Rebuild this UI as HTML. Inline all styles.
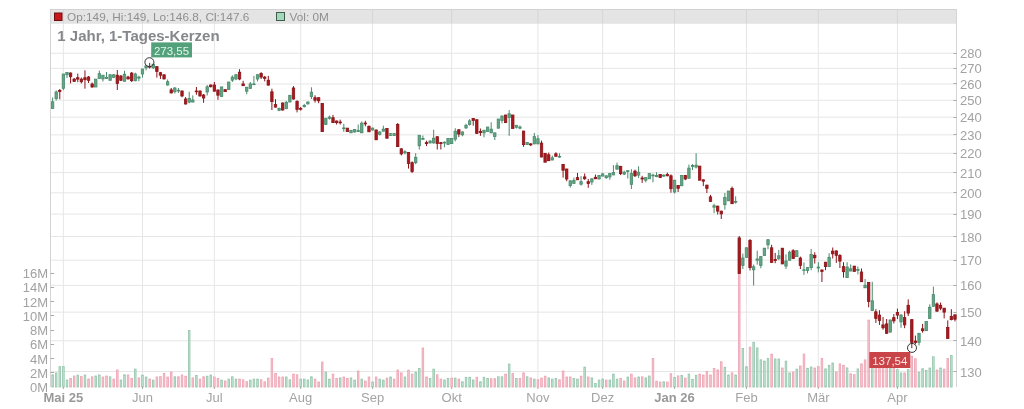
<!DOCTYPE html>
<html><head><meta charset="utf-8"><title>Chart</title>
<style>
html,body{margin:0;padding:0;background:#fff;width:1024px;height:409px;overflow:hidden}
text{font-family:"Liberation Sans",Arial,sans-serif}
.ax{font-size:13px;fill:#a2a2a2}
.m{font-size:13px;fill:#a4a4a4}
.mb{font-size:13px;fill:#999;font-weight:bold}
.hd{font-size:11.8px;fill:#8f8f8f}
.tt{font-size:15px;fill:#85878b;font-weight:bold}
.lb{font-size:11.5px}
</style></head><body>
<svg width="1024" height="409" viewBox="0 0 1024 409" style="display:block">
<rect x="0" y="0" width="1024" height="409" fill="#fff"/>
<rect x="50.5" y="9.5" width="906.0" height="14.3" fill="#e4e4e4"/>
<line x1="50.5" x2="956.5" y1="53.25" y2="53.25" stroke="#e6e6e6" stroke-width="1"/>
<line x1="50.5" x2="956.5" y1="68.34" y2="68.34" stroke="#e6e6e6" stroke-width="1"/>
<line x1="50.5" x2="956.5" y1="83.99" y2="83.99" stroke="#e6e6e6" stroke-width="1"/>
<line x1="50.5" x2="956.5" y1="100.26" y2="100.26" stroke="#e6e6e6" stroke-width="1"/>
<line x1="50.5" x2="956.5" y1="117.19" y2="117.19" stroke="#e6e6e6" stroke-width="1"/>
<line x1="50.5" x2="956.5" y1="134.85" y2="134.85" stroke="#e6e6e6" stroke-width="1"/>
<line x1="50.5" x2="956.5" y1="153.28" y2="153.28" stroke="#e6e6e6" stroke-width="1"/>
<line x1="50.5" x2="956.5" y1="172.58" y2="172.58" stroke="#e6e6e6" stroke-width="1"/>
<line x1="50.5" x2="956.5" y1="192.82" y2="192.82" stroke="#e6e6e6" stroke-width="1"/>
<line x1="50.5" x2="956.5" y1="214.10" y2="214.10" stroke="#e6e6e6" stroke-width="1"/>
<line x1="50.5" x2="956.5" y1="236.52" y2="236.52" stroke="#e6e6e6" stroke-width="1"/>
<line x1="50.5" x2="956.5" y1="260.23" y2="260.23" stroke="#e6e6e6" stroke-width="1"/>
<line x1="50.5" x2="956.5" y1="285.38" y2="285.38" stroke="#e6e6e6" stroke-width="1"/>
<line x1="50.5" x2="956.5" y1="312.15" y2="312.15" stroke="#e6e6e6" stroke-width="1"/>
<line x1="50.5" x2="956.5" y1="340.77" y2="340.77" stroke="#e6e6e6" stroke-width="1"/>
<line x1="50.5" x2="956.5" y1="371.51" y2="371.51" stroke="#e6e6e6" stroke-width="1"/>
<line x1="63.39" x2="63.39" y1="23.5" y2="387" stroke="#e6e6e6" stroke-width="1"/>
<line x1="63.39" x2="63.39" y1="9" y2="23.5" stroke="#d6d6d6" stroke-width="1"/>
<line x1="63.39" x2="63.39" y1="387" y2="389" stroke="#a8a8a8" stroke-width="1"/>
<line x1="142.47" x2="142.47" y1="23.5" y2="387" stroke="#e6e6e6" stroke-width="1"/>
<line x1="142.47" x2="142.47" y1="9" y2="23.5" stroke="#d6d6d6" stroke-width="1"/>
<line x1="142.47" x2="142.47" y1="387" y2="389" stroke="#a8a8a8" stroke-width="1"/>
<line x1="214.38" x2="214.38" y1="23.5" y2="387" stroke="#e6e6e6" stroke-width="1"/>
<line x1="214.38" x2="214.38" y1="9" y2="23.5" stroke="#d6d6d6" stroke-width="1"/>
<line x1="214.38" x2="214.38" y1="387" y2="389" stroke="#a8a8a8" stroke-width="1"/>
<line x1="300.66" x2="300.66" y1="23.5" y2="387" stroke="#e6e6e6" stroke-width="1"/>
<line x1="300.66" x2="300.66" y1="9" y2="23.5" stroke="#d6d6d6" stroke-width="1"/>
<line x1="300.66" x2="300.66" y1="387" y2="389" stroke="#a8a8a8" stroke-width="1"/>
<line x1="372.56" x2="372.56" y1="23.5" y2="387" stroke="#e6e6e6" stroke-width="1"/>
<line x1="372.56" x2="372.56" y1="9" y2="23.5" stroke="#d6d6d6" stroke-width="1"/>
<line x1="372.56" x2="372.56" y1="387" y2="389" stroke="#a8a8a8" stroke-width="1"/>
<line x1="451.65" x2="451.65" y1="23.5" y2="387" stroke="#e6e6e6" stroke-width="1"/>
<line x1="451.65" x2="451.65" y1="9" y2="23.5" stroke="#d6d6d6" stroke-width="1"/>
<line x1="451.65" x2="451.65" y1="387" y2="389" stroke="#a8a8a8" stroke-width="1"/>
<line x1="537.93" x2="537.93" y1="23.5" y2="387" stroke="#e6e6e6" stroke-width="1"/>
<line x1="537.93" x2="537.93" y1="9" y2="23.5" stroke="#d6d6d6" stroke-width="1"/>
<line x1="537.93" x2="537.93" y1="387" y2="389" stroke="#a8a8a8" stroke-width="1"/>
<line x1="602.64" x2="602.64" y1="23.5" y2="387" stroke="#e6e6e6" stroke-width="1"/>
<line x1="602.64" x2="602.64" y1="9" y2="23.5" stroke="#d6d6d6" stroke-width="1"/>
<line x1="602.64" x2="602.64" y1="387" y2="389" stroke="#a8a8a8" stroke-width="1"/>
<line x1="674.54" x2="674.54" y1="23.5" y2="387" stroke="#e6e6e6" stroke-width="1"/>
<line x1="674.54" x2="674.54" y1="9" y2="23.5" stroke="#d6d6d6" stroke-width="1"/>
<line x1="674.54" x2="674.54" y1="387" y2="389" stroke="#a8a8a8" stroke-width="1"/>
<line x1="746.44" x2="746.44" y1="23.5" y2="387" stroke="#e6e6e6" stroke-width="1"/>
<line x1="746.44" x2="746.44" y1="9" y2="23.5" stroke="#d6d6d6" stroke-width="1"/>
<line x1="746.44" x2="746.44" y1="387" y2="389" stroke="#a8a8a8" stroke-width="1"/>
<line x1="818.34" x2="818.34" y1="23.5" y2="387" stroke="#e6e6e6" stroke-width="1"/>
<line x1="818.34" x2="818.34" y1="9" y2="23.5" stroke="#d6d6d6" stroke-width="1"/>
<line x1="818.34" x2="818.34" y1="387" y2="389" stroke="#a8a8a8" stroke-width="1"/>
<line x1="897.43" x2="897.43" y1="23.5" y2="387" stroke="#e6e6e6" stroke-width="1"/>
<line x1="897.43" x2="897.43" y1="9" y2="23.5" stroke="#d6d6d6" stroke-width="1"/>
<line x1="897.43" x2="897.43" y1="387" y2="389" stroke="#a8a8a8" stroke-width="1"/>
<line x1="50.5" x2="50.5" y1="9" y2="387" stroke="#d4d4d4" stroke-width="1"/>
<line x1="956.5" x2="956.5" y1="9" y2="387" stroke="#d4d4d4" stroke-width="1"/>
<line x1="50.5" x2="956.5" y1="9.5" y2="9.5" stroke="#d2d2d2" stroke-width="1"/>
<line x1="953.5" x2="956.5" y1="53.5" y2="53.5" stroke="#a8a8a8" stroke-width="1"/>
<text x="960" y="58" class="ax">280</text>
<line x1="953.5" x2="956.5" y1="68.5" y2="68.5" stroke="#a8a8a8" stroke-width="1"/>
<text x="960" y="73" class="ax">270</text>
<line x1="953.5" x2="956.5" y1="83.5" y2="83.5" stroke="#a8a8a8" stroke-width="1"/>
<text x="960" y="89" class="ax">260</text>
<line x1="953.5" x2="956.5" y1="100.5" y2="100.5" stroke="#a8a8a8" stroke-width="1"/>
<text x="960" y="105" class="ax">250</text>
<line x1="953.5" x2="956.5" y1="117.5" y2="117.5" stroke="#a8a8a8" stroke-width="1"/>
<text x="960" y="122" class="ax">240</text>
<line x1="953.5" x2="956.5" y1="134.5" y2="134.5" stroke="#a8a8a8" stroke-width="1"/>
<text x="960" y="140" class="ax">230</text>
<line x1="953.5" x2="956.5" y1="153.5" y2="153.5" stroke="#a8a8a8" stroke-width="1"/>
<text x="960" y="158" class="ax">220</text>
<line x1="953.5" x2="956.5" y1="172.5" y2="172.5" stroke="#a8a8a8" stroke-width="1"/>
<text x="960" y="178" class="ax">210</text>
<line x1="953.5" x2="956.5" y1="192.5" y2="192.5" stroke="#a8a8a8" stroke-width="1"/>
<text x="960" y="198" class="ax">200</text>
<line x1="953.5" x2="956.5" y1="214.5" y2="214.5" stroke="#a8a8a8" stroke-width="1"/>
<text x="960" y="219" class="ax">190</text>
<line x1="953.5" x2="956.5" y1="236.5" y2="236.5" stroke="#a8a8a8" stroke-width="1"/>
<text x="960" y="242" class="ax">180</text>
<line x1="953.5" x2="956.5" y1="260.5" y2="260.5" stroke="#a8a8a8" stroke-width="1"/>
<text x="960" y="265" class="ax">170</text>
<line x1="953.5" x2="956.5" y1="285.5" y2="285.5" stroke="#a8a8a8" stroke-width="1"/>
<text x="960" y="290" class="ax">160</text>
<line x1="953.5" x2="956.5" y1="312.5" y2="312.5" stroke="#a8a8a8" stroke-width="1"/>
<text x="960" y="317" class="ax">150</text>
<line x1="953.5" x2="956.5" y1="340.5" y2="340.5" stroke="#a8a8a8" stroke-width="1"/>
<text x="960" y="346" class="ax">140</text>
<line x1="953.5" x2="956.5" y1="371.5" y2="371.5" stroke="#a8a8a8" stroke-width="1"/>
<text x="960" y="377" class="ax">130</text>
<text x="48" y="392.10" class="ax" text-anchor="end">0M</text>
<line x1="50.5" x2="54.0" y1="372.5" y2="372.5" stroke="#a8a8a8" stroke-width="1"/>
<text x="48" y="377.85" class="ax" text-anchor="end">2M</text>
<line x1="50.5" x2="54.0" y1="358.5" y2="358.5" stroke="#a8a8a8" stroke-width="1"/>
<text x="48" y="363.60" class="ax" text-anchor="end">4M</text>
<line x1="50.5" x2="54.0" y1="344.5" y2="344.5" stroke="#a8a8a8" stroke-width="1"/>
<text x="48" y="349.35" class="ax" text-anchor="end">6M</text>
<line x1="50.5" x2="54.0" y1="330.5" y2="330.5" stroke="#a8a8a8" stroke-width="1"/>
<text x="48" y="335.10" class="ax" text-anchor="end">8M</text>
<line x1="50.5" x2="54.0" y1="315.5" y2="315.5" stroke="#a8a8a8" stroke-width="1"/>
<text x="48" y="320.85" class="ax" text-anchor="end">10M</text>
<line x1="50.5" x2="54.0" y1="301.5" y2="301.5" stroke="#a8a8a8" stroke-width="1"/>
<text x="48" y="306.60" class="ax" text-anchor="end">12M</text>
<line x1="50.5" x2="54.0" y1="287.5" y2="287.5" stroke="#a8a8a8" stroke-width="1"/>
<text x="48" y="292.35" class="ax" text-anchor="end">14M</text>
<line x1="50.5" x2="54.0" y1="273.5" y2="273.5" stroke="#a8a8a8" stroke-width="1"/>
<text x="48" y="278.10" class="ax" text-anchor="end">16M</text>
<text x="63.39" y="402" class="mb" text-anchor="middle">Mai 25</text>
<text x="142.47" y="402" class="m" text-anchor="middle">Jun</text>
<text x="214.38" y="402" class="m" text-anchor="middle">Jul</text>
<text x="300.66" y="402" class="m" text-anchor="middle">Aug</text>
<text x="372.56" y="402" class="m" text-anchor="middle">Sep</text>
<text x="451.65" y="402" class="m" text-anchor="middle">Okt</text>
<text x="537.93" y="402" class="m" text-anchor="middle">Nov</text>
<text x="602.64" y="402" class="m" text-anchor="middle">Dez</text>
<text x="674.54" y="402" class="mb" text-anchor="middle">Jan 26</text>
<text x="746.44" y="402" class="m" text-anchor="middle">Feb</text>
<text x="818.34" y="402" class="m" text-anchor="middle">Mär</text>
<text x="897.43" y="402" class="m" text-anchor="middle">Apr</text>
<rect x="51.80" y="374.80" width="1.6" height="12.20" fill="#bfe3d1" stroke="#94c4ab" stroke-width="0.8"/>
<rect x="55.40" y="372.90" width="1.6" height="14.10" fill="#bfe3d1" stroke="#94c4ab" stroke-width="0.8"/>
<rect x="58.99" y="366.60" width="1.6" height="20.40" fill="#bfe3d1" stroke="#94c4ab" stroke-width="0.8"/>
<rect x="62.59" y="366.60" width="1.6" height="20.40" fill="#bfe3d1" stroke="#94c4ab" stroke-width="0.8"/>
<rect x="66.18" y="380.00" width="1.6" height="7.00" fill="#bfe3d1" stroke="#94c4ab" stroke-width="0.8"/>
<rect x="69.78" y="378.50" width="1.6" height="8.50" fill="#f7c5cf" stroke="#eda1b1" stroke-width="0.8"/>
<rect x="73.37" y="376.00" width="1.6" height="11.00" fill="#f7c5cf" stroke="#eda1b1" stroke-width="0.8"/>
<rect x="76.97" y="375.10" width="1.6" height="11.90" fill="#bfe3d1" stroke="#94c4ab" stroke-width="0.8"/>
<rect x="80.56" y="376.60" width="1.6" height="10.40" fill="#f7c5cf" stroke="#eda1b1" stroke-width="0.8"/>
<rect x="84.16" y="375.00" width="1.6" height="12.00" fill="#bfe3d1" stroke="#94c4ab" stroke-width="0.8"/>
<rect x="87.75" y="379.00" width="1.6" height="8.00" fill="#f7c5cf" stroke="#eda1b1" stroke-width="0.8"/>
<rect x="91.35" y="376.80" width="1.6" height="10.20" fill="#f7c5cf" stroke="#eda1b1" stroke-width="0.8"/>
<rect x="94.94" y="376.00" width="1.6" height="11.00" fill="#bfe3d1" stroke="#94c4ab" stroke-width="0.8"/>
<rect x="98.54" y="375.00" width="1.6" height="12.00" fill="#bfe3d1" stroke="#94c4ab" stroke-width="0.8"/>
<rect x="102.13" y="377.00" width="1.6" height="10.00" fill="#f7c5cf" stroke="#eda1b1" stroke-width="0.8"/>
<rect x="105.73" y="376.00" width="1.6" height="11.00" fill="#f7c5cf" stroke="#eda1b1" stroke-width="0.8"/>
<rect x="109.32" y="376.80" width="1.6" height="10.20" fill="#bfe3d1" stroke="#94c4ab" stroke-width="0.8"/>
<rect x="112.92" y="379.10" width="1.6" height="7.90" fill="#f7c5cf" stroke="#eda1b1" stroke-width="0.8"/>
<rect x="116.51" y="370.00" width="1.6" height="17.00" fill="#f7c5cf" stroke="#eda1b1" stroke-width="0.8"/>
<rect x="120.11" y="380.00" width="1.6" height="7.00" fill="#bfe3d1" stroke="#94c4ab" stroke-width="0.8"/>
<rect x="123.70" y="374.80" width="1.6" height="12.20" fill="#bfe3d1" stroke="#94c4ab" stroke-width="0.8"/>
<rect x="127.30" y="375.00" width="1.6" height="12.00" fill="#f7c5cf" stroke="#eda1b1" stroke-width="0.8"/>
<rect x="130.89" y="378.30" width="1.6" height="8.70" fill="#f7c5cf" stroke="#eda1b1" stroke-width="0.8"/>
<rect x="134.48" y="369.10" width="1.6" height="17.90" fill="#bfe3d1" stroke="#94c4ab" stroke-width="0.8"/>
<rect x="138.08" y="377.90" width="1.6" height="9.10" fill="#f7c5cf" stroke="#eda1b1" stroke-width="0.8"/>
<rect x="141.67" y="375.10" width="1.6" height="11.90" fill="#bfe3d1" stroke="#94c4ab" stroke-width="0.8"/>
<rect x="145.27" y="377.00" width="1.6" height="10.00" fill="#bfe3d1" stroke="#94c4ab" stroke-width="0.8"/>
<rect x="148.87" y="379.00" width="1.6" height="8.00" fill="#f7c5cf" stroke="#eda1b1" stroke-width="0.8"/>
<rect x="152.46" y="380.10" width="1.6" height="6.90" fill="#bfe3d1" stroke="#94c4ab" stroke-width="0.8"/>
<rect x="156.06" y="377.00" width="1.6" height="10.00" fill="#f7c5cf" stroke="#eda1b1" stroke-width="0.8"/>
<rect x="159.65" y="376.60" width="1.6" height="10.40" fill="#f7c5cf" stroke="#eda1b1" stroke-width="0.8"/>
<rect x="163.25" y="373.50" width="1.6" height="13.50" fill="#f7c5cf" stroke="#eda1b1" stroke-width="0.8"/>
<rect x="166.84" y="377.00" width="1.6" height="10.00" fill="#f7c5cf" stroke="#eda1b1" stroke-width="0.8"/>
<rect x="170.44" y="372.00" width="1.6" height="15.00" fill="#f7c5cf" stroke="#eda1b1" stroke-width="0.8"/>
<rect x="174.03" y="376.80" width="1.6" height="10.20" fill="#bfe3d1" stroke="#94c4ab" stroke-width="0.8"/>
<rect x="177.62" y="376.80" width="1.6" height="10.20" fill="#f7c5cf" stroke="#eda1b1" stroke-width="0.8"/>
<rect x="181.22" y="375.00" width="1.6" height="12.00" fill="#f7c5cf" stroke="#eda1b1" stroke-width="0.8"/>
<rect x="184.81" y="376.20" width="1.6" height="10.80" fill="#f7c5cf" stroke="#eda1b1" stroke-width="0.8"/>
<rect x="188.41" y="330.50" width="1.6" height="56.50" fill="#bfe3d1" stroke="#94c4ab" stroke-width="0.8"/>
<rect x="192.00" y="377.90" width="1.6" height="9.10" fill="#f7c5cf" stroke="#eda1b1" stroke-width="0.8"/>
<rect x="195.60" y="375.40" width="1.6" height="11.60" fill="#bfe3d1" stroke="#94c4ab" stroke-width="0.8"/>
<rect x="199.19" y="379.10" width="1.6" height="7.90" fill="#f7c5cf" stroke="#eda1b1" stroke-width="0.8"/>
<rect x="202.79" y="376.80" width="1.6" height="10.20" fill="#f7c5cf" stroke="#eda1b1" stroke-width="0.8"/>
<rect x="206.38" y="376.20" width="1.6" height="10.80" fill="#bfe3d1" stroke="#94c4ab" stroke-width="0.8"/>
<rect x="209.98" y="375.00" width="1.6" height="12.00" fill="#bfe3d1" stroke="#94c4ab" stroke-width="0.8"/>
<rect x="213.57" y="377.00" width="1.6" height="10.00" fill="#f7c5cf" stroke="#eda1b1" stroke-width="0.8"/>
<rect x="217.17" y="378.50" width="1.6" height="8.50" fill="#f7c5cf" stroke="#eda1b1" stroke-width="0.8"/>
<rect x="220.76" y="380.10" width="1.6" height="6.90" fill="#bfe3d1" stroke="#94c4ab" stroke-width="0.8"/>
<rect x="224.36" y="381.00" width="1.6" height="6.00" fill="#f7c5cf" stroke="#eda1b1" stroke-width="0.8"/>
<rect x="227.95" y="379.10" width="1.6" height="7.90" fill="#bfe3d1" stroke="#94c4ab" stroke-width="0.8"/>
<rect x="231.55" y="376.80" width="1.6" height="10.20" fill="#bfe3d1" stroke="#94c4ab" stroke-width="0.8"/>
<rect x="235.14" y="379.10" width="1.6" height="7.90" fill="#bfe3d1" stroke="#94c4ab" stroke-width="0.8"/>
<rect x="238.74" y="379.10" width="1.6" height="7.90" fill="#f7c5cf" stroke="#eda1b1" stroke-width="0.8"/>
<rect x="242.33" y="379.80" width="1.6" height="7.20" fill="#f7c5cf" stroke="#eda1b1" stroke-width="0.8"/>
<rect x="245.93" y="381.60" width="1.6" height="5.40" fill="#f7c5cf" stroke="#eda1b1" stroke-width="0.8"/>
<rect x="249.53" y="380.10" width="1.6" height="6.90" fill="#bfe3d1" stroke="#94c4ab" stroke-width="0.8"/>
<rect x="253.12" y="379.10" width="1.6" height="7.90" fill="#bfe3d1" stroke="#94c4ab" stroke-width="0.8"/>
<rect x="256.72" y="379.10" width="1.6" height="7.90" fill="#bfe3d1" stroke="#94c4ab" stroke-width="0.8"/>
<rect x="260.31" y="379.80" width="1.6" height="7.20" fill="#f7c5cf" stroke="#eda1b1" stroke-width="0.8"/>
<rect x="263.91" y="381.80" width="1.6" height="5.20" fill="#f7c5cf" stroke="#eda1b1" stroke-width="0.8"/>
<rect x="267.50" y="378.10" width="1.6" height="8.90" fill="#f7c5cf" stroke="#eda1b1" stroke-width="0.8"/>
<rect x="271.10" y="358.50" width="1.6" height="28.50" fill="#f7c5cf" stroke="#eda1b1" stroke-width="0.8"/>
<rect x="274.69" y="373.50" width="1.6" height="13.50" fill="#f7c5cf" stroke="#eda1b1" stroke-width="0.8"/>
<rect x="278.29" y="377.00" width="1.6" height="10.00" fill="#f7c5cf" stroke="#eda1b1" stroke-width="0.8"/>
<rect x="281.88" y="377.00" width="1.6" height="10.00" fill="#f7c5cf" stroke="#eda1b1" stroke-width="0.8"/>
<rect x="285.48" y="377.00" width="1.6" height="10.00" fill="#bfe3d1" stroke="#94c4ab" stroke-width="0.8"/>
<rect x="289.07" y="379.80" width="1.6" height="7.20" fill="#bfe3d1" stroke="#94c4ab" stroke-width="0.8"/>
<rect x="292.67" y="374.10" width="1.6" height="12.90" fill="#f7c5cf" stroke="#eda1b1" stroke-width="0.8"/>
<rect x="296.26" y="374.80" width="1.6" height="12.20" fill="#f7c5cf" stroke="#eda1b1" stroke-width="0.8"/>
<rect x="299.86" y="379.10" width="1.6" height="7.90" fill="#bfe3d1" stroke="#94c4ab" stroke-width="0.8"/>
<rect x="303.45" y="379.10" width="1.6" height="7.90" fill="#bfe3d1" stroke="#94c4ab" stroke-width="0.8"/>
<rect x="307.05" y="380.00" width="1.6" height="7.00" fill="#bfe3d1" stroke="#94c4ab" stroke-width="0.8"/>
<rect x="310.64" y="376.80" width="1.6" height="10.20" fill="#bfe3d1" stroke="#94c4ab" stroke-width="0.8"/>
<rect x="314.24" y="379.10" width="1.6" height="7.90" fill="#f7c5cf" stroke="#eda1b1" stroke-width="0.8"/>
<rect x="317.83" y="382.00" width="1.6" height="5.00" fill="#f7c5cf" stroke="#eda1b1" stroke-width="0.8"/>
<rect x="321.43" y="362.10" width="1.6" height="24.90" fill="#f7c5cf" stroke="#eda1b1" stroke-width="0.8"/>
<rect x="325.02" y="372.00" width="1.6" height="15.00" fill="#bfe3d1" stroke="#94c4ab" stroke-width="0.8"/>
<rect x="328.62" y="379.10" width="1.6" height="7.90" fill="#bfe3d1" stroke="#94c4ab" stroke-width="0.8"/>
<rect x="332.21" y="374.10" width="1.6" height="12.90" fill="#f7c5cf" stroke="#eda1b1" stroke-width="0.8"/>
<rect x="335.81" y="378.50" width="1.6" height="8.50" fill="#f7c5cf" stroke="#eda1b1" stroke-width="0.8"/>
<rect x="339.40" y="377.90" width="1.6" height="9.10" fill="#bfe3d1" stroke="#94c4ab" stroke-width="0.8"/>
<rect x="343.00" y="377.00" width="1.6" height="10.00" fill="#f7c5cf" stroke="#eda1b1" stroke-width="0.8"/>
<rect x="346.59" y="378.50" width="1.6" height="8.50" fill="#f7c5cf" stroke="#eda1b1" stroke-width="0.8"/>
<rect x="350.19" y="377.90" width="1.6" height="9.10" fill="#bfe3d1" stroke="#94c4ab" stroke-width="0.8"/>
<rect x="353.78" y="380.10" width="1.6" height="6.90" fill="#bfe3d1" stroke="#94c4ab" stroke-width="0.8"/>
<rect x="357.38" y="371.00" width="1.6" height="16.00" fill="#f7c5cf" stroke="#eda1b1" stroke-width="0.8"/>
<rect x="360.97" y="379.10" width="1.6" height="7.90" fill="#bfe3d1" stroke="#94c4ab" stroke-width="0.8"/>
<rect x="364.57" y="381.00" width="1.6" height="6.00" fill="#f7c5cf" stroke="#eda1b1" stroke-width="0.8"/>
<rect x="368.16" y="377.00" width="1.6" height="10.00" fill="#f7c5cf" stroke="#eda1b1" stroke-width="0.8"/>
<rect x="371.76" y="382.00" width="1.6" height="5.00" fill="#bfe3d1" stroke="#94c4ab" stroke-width="0.8"/>
<rect x="375.35" y="377.00" width="1.6" height="10.00" fill="#f7c5cf" stroke="#eda1b1" stroke-width="0.8"/>
<rect x="378.95" y="379.10" width="1.6" height="7.90" fill="#bfe3d1" stroke="#94c4ab" stroke-width="0.8"/>
<rect x="382.54" y="380.10" width="1.6" height="6.90" fill="#bfe3d1" stroke="#94c4ab" stroke-width="0.8"/>
<rect x="386.14" y="378.10" width="1.6" height="8.90" fill="#f7c5cf" stroke="#eda1b1" stroke-width="0.8"/>
<rect x="389.73" y="377.00" width="1.6" height="10.00" fill="#bfe3d1" stroke="#94c4ab" stroke-width="0.8"/>
<rect x="393.33" y="379.10" width="1.6" height="7.90" fill="#f7c5cf" stroke="#eda1b1" stroke-width="0.8"/>
<rect x="396.92" y="370.00" width="1.6" height="17.00" fill="#f7c5cf" stroke="#eda1b1" stroke-width="0.8"/>
<rect x="400.52" y="372.90" width="1.6" height="14.10" fill="#f7c5cf" stroke="#eda1b1" stroke-width="0.8"/>
<rect x="404.11" y="377.00" width="1.6" height="10.00" fill="#bfe3d1" stroke="#94c4ab" stroke-width="0.8"/>
<rect x="407.71" y="370.10" width="1.6" height="16.90" fill="#f7c5cf" stroke="#eda1b1" stroke-width="0.8"/>
<rect x="411.30" y="374.10" width="1.6" height="12.90" fill="#f7c5cf" stroke="#eda1b1" stroke-width="0.8"/>
<rect x="414.90" y="372.00" width="1.6" height="15.00" fill="#bfe3d1" stroke="#94c4ab" stroke-width="0.8"/>
<rect x="418.49" y="368.50" width="1.6" height="18.50" fill="#bfe3d1" stroke="#94c4ab" stroke-width="0.8"/>
<rect x="422.09" y="348.00" width="1.6" height="39.00" fill="#f7c5cf" stroke="#eda1b1" stroke-width="0.8"/>
<rect x="425.68" y="377.00" width="1.6" height="10.00" fill="#f7c5cf" stroke="#eda1b1" stroke-width="0.8"/>
<rect x="429.28" y="378.50" width="1.6" height="8.50" fill="#bfe3d1" stroke="#94c4ab" stroke-width="0.8"/>
<rect x="432.87" y="369.10" width="1.6" height="17.90" fill="#bfe3d1" stroke="#94c4ab" stroke-width="0.8"/>
<rect x="436.47" y="374.80" width="1.6" height="12.20" fill="#f7c5cf" stroke="#eda1b1" stroke-width="0.8"/>
<rect x="440.06" y="379.10" width="1.6" height="7.90" fill="#f7c5cf" stroke="#eda1b1" stroke-width="0.8"/>
<rect x="443.66" y="380.00" width="1.6" height="7.00" fill="#bfe3d1" stroke="#94c4ab" stroke-width="0.8"/>
<rect x="447.25" y="378.50" width="1.6" height="8.50" fill="#bfe3d1" stroke="#94c4ab" stroke-width="0.8"/>
<rect x="450.85" y="378.10" width="1.6" height="8.90" fill="#f7c5cf" stroke="#eda1b1" stroke-width="0.8"/>
<rect x="454.44" y="378.10" width="1.6" height="8.90" fill="#bfe3d1" stroke="#94c4ab" stroke-width="0.8"/>
<rect x="458.04" y="379.10" width="1.6" height="7.90" fill="#f7c5cf" stroke="#eda1b1" stroke-width="0.8"/>
<rect x="461.63" y="381.80" width="1.6" height="5.20" fill="#bfe3d1" stroke="#94c4ab" stroke-width="0.8"/>
<rect x="465.23" y="377.30" width="1.6" height="9.70" fill="#bfe3d1" stroke="#94c4ab" stroke-width="0.8"/>
<rect x="468.82" y="377.30" width="1.6" height="9.70" fill="#bfe3d1" stroke="#94c4ab" stroke-width="0.8"/>
<rect x="472.42" y="380.00" width="1.6" height="7.00" fill="#bfe3d1" stroke="#94c4ab" stroke-width="0.8"/>
<rect x="476.01" y="377.30" width="1.6" height="9.70" fill="#f7c5cf" stroke="#eda1b1" stroke-width="0.8"/>
<rect x="479.61" y="381.80" width="1.6" height="5.20" fill="#bfe3d1" stroke="#94c4ab" stroke-width="0.8"/>
<rect x="483.20" y="377.30" width="1.6" height="9.70" fill="#bfe3d1" stroke="#94c4ab" stroke-width="0.8"/>
<rect x="486.80" y="378.50" width="1.6" height="8.50" fill="#bfe3d1" stroke="#94c4ab" stroke-width="0.8"/>
<rect x="490.39" y="378.70" width="1.6" height="8.30" fill="#f7c5cf" stroke="#eda1b1" stroke-width="0.8"/>
<rect x="493.99" y="378.70" width="1.6" height="8.30" fill="#f7c5cf" stroke="#eda1b1" stroke-width="0.8"/>
<rect x="497.58" y="376.80" width="1.6" height="10.20" fill="#bfe3d1" stroke="#94c4ab" stroke-width="0.8"/>
<rect x="501.18" y="376.80" width="1.6" height="10.20" fill="#bfe3d1" stroke="#94c4ab" stroke-width="0.8"/>
<rect x="504.77" y="374.10" width="1.6" height="12.90" fill="#f7c5cf" stroke="#eda1b1" stroke-width="0.8"/>
<rect x="508.37" y="364.10" width="1.6" height="22.90" fill="#bfe3d1" stroke="#94c4ab" stroke-width="0.8"/>
<rect x="511.96" y="373.50" width="1.6" height="13.50" fill="#f7c5cf" stroke="#eda1b1" stroke-width="0.8"/>
<rect x="515.56" y="378.50" width="1.6" height="8.50" fill="#bfe3d1" stroke="#94c4ab" stroke-width="0.8"/>
<rect x="519.15" y="378.50" width="1.6" height="8.50" fill="#f7c5cf" stroke="#eda1b1" stroke-width="0.8"/>
<rect x="522.75" y="372.90" width="1.6" height="14.10" fill="#f7c5cf" stroke="#eda1b1" stroke-width="0.8"/>
<rect x="526.34" y="376.80" width="1.6" height="10.20" fill="#bfe3d1" stroke="#94c4ab" stroke-width="0.8"/>
<rect x="529.94" y="377.90" width="1.6" height="9.10" fill="#f7c5cf" stroke="#eda1b1" stroke-width="0.8"/>
<rect x="533.53" y="379.10" width="1.6" height="7.90" fill="#bfe3d1" stroke="#94c4ab" stroke-width="0.8"/>
<rect x="537.13" y="379.80" width="1.6" height="7.20" fill="#f7c5cf" stroke="#eda1b1" stroke-width="0.8"/>
<rect x="540.72" y="378.10" width="1.6" height="8.90" fill="#f7c5cf" stroke="#eda1b1" stroke-width="0.8"/>
<rect x="544.32" y="376.20" width="1.6" height="10.80" fill="#f7c5cf" stroke="#eda1b1" stroke-width="0.8"/>
<rect x="547.91" y="377.90" width="1.6" height="9.10" fill="#bfe3d1" stroke="#94c4ab" stroke-width="0.8"/>
<rect x="551.51" y="379.10" width="1.6" height="7.90" fill="#bfe3d1" stroke="#94c4ab" stroke-width="0.8"/>
<rect x="555.10" y="378.50" width="1.6" height="8.50" fill="#bfe3d1" stroke="#94c4ab" stroke-width="0.8"/>
<rect x="558.70" y="379.80" width="1.6" height="7.20" fill="#f7c5cf" stroke="#eda1b1" stroke-width="0.8"/>
<rect x="562.29" y="371.00" width="1.6" height="16.00" fill="#f7c5cf" stroke="#eda1b1" stroke-width="0.8"/>
<rect x="565.89" y="377.00" width="1.6" height="10.00" fill="#f7c5cf" stroke="#eda1b1" stroke-width="0.8"/>
<rect x="569.48" y="377.00" width="1.6" height="10.00" fill="#f7c5cf" stroke="#eda1b1" stroke-width="0.8"/>
<rect x="573.08" y="378.50" width="1.6" height="8.50" fill="#bfe3d1" stroke="#94c4ab" stroke-width="0.8"/>
<rect x="576.67" y="379.10" width="1.6" height="7.90" fill="#bfe3d1" stroke="#94c4ab" stroke-width="0.8"/>
<rect x="580.27" y="376.20" width="1.6" height="10.80" fill="#f7c5cf" stroke="#eda1b1" stroke-width="0.8"/>
<rect x="583.86" y="367.10" width="1.6" height="19.90" fill="#bfe3d1" stroke="#94c4ab" stroke-width="0.8"/>
<rect x="587.46" y="377.00" width="1.6" height="10.00" fill="#f7c5cf" stroke="#eda1b1" stroke-width="0.8"/>
<rect x="591.05" y="377.90" width="1.6" height="9.10" fill="#bfe3d1" stroke="#94c4ab" stroke-width="0.8"/>
<rect x="594.65" y="383.40" width="1.6" height="3.60" fill="#bfe3d1" stroke="#94c4ab" stroke-width="0.8"/>
<rect x="598.24" y="380.10" width="1.6" height="6.90" fill="#bfe3d1" stroke="#94c4ab" stroke-width="0.8"/>
<rect x="601.84" y="379.10" width="1.6" height="7.90" fill="#bfe3d1" stroke="#94c4ab" stroke-width="0.8"/>
<rect x="605.43" y="380.10" width="1.6" height="6.90" fill="#f7c5cf" stroke="#eda1b1" stroke-width="0.8"/>
<rect x="609.03" y="380.00" width="1.6" height="7.00" fill="#bfe3d1" stroke="#94c4ab" stroke-width="0.8"/>
<rect x="612.62" y="374.10" width="1.6" height="12.90" fill="#bfe3d1" stroke="#94c4ab" stroke-width="0.8"/>
<rect x="616.22" y="379.10" width="1.6" height="7.90" fill="#bfe3d1" stroke="#94c4ab" stroke-width="0.8"/>
<rect x="619.81" y="378.30" width="1.6" height="8.70" fill="#f7c5cf" stroke="#eda1b1" stroke-width="0.8"/>
<rect x="623.41" y="381.00" width="1.6" height="6.00" fill="#f7c5cf" stroke="#eda1b1" stroke-width="0.8"/>
<rect x="627.00" y="377.00" width="1.6" height="10.00" fill="#bfe3d1" stroke="#94c4ab" stroke-width="0.8"/>
<rect x="630.60" y="374.10" width="1.6" height="12.90" fill="#f7c5cf" stroke="#eda1b1" stroke-width="0.8"/>
<rect x="634.19" y="377.90" width="1.6" height="9.10" fill="#f7c5cf" stroke="#eda1b1" stroke-width="0.8"/>
<rect x="637.79" y="377.00" width="1.6" height="10.00" fill="#bfe3d1" stroke="#94c4ab" stroke-width="0.8"/>
<rect x="641.38" y="376.80" width="1.6" height="10.20" fill="#f7c5cf" stroke="#eda1b1" stroke-width="0.8"/>
<rect x="644.98" y="377.90" width="1.6" height="9.10" fill="#bfe3d1" stroke="#94c4ab" stroke-width="0.8"/>
<rect x="648.57" y="376.00" width="1.6" height="11.00" fill="#bfe3d1" stroke="#94c4ab" stroke-width="0.8"/>
<rect x="652.17" y="358.50" width="1.6" height="28.50" fill="#f7c5cf" stroke="#eda1b1" stroke-width="0.8"/>
<rect x="655.76" y="381.20" width="1.6" height="5.80" fill="#f7c5cf" stroke="#eda1b1" stroke-width="0.8"/>
<rect x="659.36" y="382.00" width="1.6" height="5.00" fill="#f7c5cf" stroke="#eda1b1" stroke-width="0.8"/>
<rect x="662.95" y="381.80" width="1.6" height="5.20" fill="#bfe3d1" stroke="#94c4ab" stroke-width="0.8"/>
<rect x="666.55" y="382.00" width="1.6" height="5.00" fill="#f7c5cf" stroke="#eda1b1" stroke-width="0.8"/>
<rect x="670.14" y="373.70" width="1.6" height="13.30" fill="#f7c5cf" stroke="#eda1b1" stroke-width="0.8"/>
<rect x="673.74" y="377.40" width="1.6" height="9.60" fill="#bfe3d1" stroke="#94c4ab" stroke-width="0.8"/>
<rect x="677.33" y="375.90" width="1.6" height="11.10" fill="#f7c5cf" stroke="#eda1b1" stroke-width="0.8"/>
<rect x="680.93" y="375.30" width="1.6" height="11.70" fill="#bfe3d1" stroke="#94c4ab" stroke-width="0.8"/>
<rect x="684.52" y="378.10" width="1.6" height="8.90" fill="#f7c5cf" stroke="#eda1b1" stroke-width="0.8"/>
<rect x="688.12" y="374.10" width="1.6" height="12.90" fill="#bfe3d1" stroke="#94c4ab" stroke-width="0.8"/>
<rect x="691.71" y="379.30" width="1.6" height="7.70" fill="#bfe3d1" stroke="#94c4ab" stroke-width="0.8"/>
<rect x="695.31" y="375.30" width="1.6" height="11.70" fill="#bfe3d1" stroke="#94c4ab" stroke-width="0.8"/>
<rect x="698.90" y="374.10" width="1.6" height="12.90" fill="#f7c5cf" stroke="#eda1b1" stroke-width="0.8"/>
<rect x="702.50" y="375.00" width="1.6" height="12.00" fill="#f7c5cf" stroke="#eda1b1" stroke-width="0.8"/>
<rect x="706.09" y="371.40" width="1.6" height="15.60" fill="#f7c5cf" stroke="#eda1b1" stroke-width="0.8"/>
<rect x="709.69" y="375.00" width="1.6" height="12.00" fill="#f7c5cf" stroke="#eda1b1" stroke-width="0.8"/>
<rect x="713.28" y="368.50" width="1.6" height="18.50" fill="#f7c5cf" stroke="#eda1b1" stroke-width="0.8"/>
<rect x="716.88" y="369.90" width="1.6" height="17.10" fill="#f7c5cf" stroke="#eda1b1" stroke-width="0.8"/>
<rect x="720.47" y="361.80" width="1.6" height="25.20" fill="#f7c5cf" stroke="#eda1b1" stroke-width="0.8"/>
<rect x="724.07" y="367.30" width="1.6" height="19.70" fill="#bfe3d1" stroke="#94c4ab" stroke-width="0.8"/>
<rect x="727.66" y="375.00" width="1.6" height="12.00" fill="#bfe3d1" stroke="#94c4ab" stroke-width="0.8"/>
<rect x="731.26" y="372.90" width="1.6" height="14.10" fill="#f7c5cf" stroke="#eda1b1" stroke-width="0.8"/>
<rect x="734.85" y="375.00" width="1.6" height="12.00" fill="#bfe3d1" stroke="#94c4ab" stroke-width="0.8"/>
<rect x="738.45" y="273.00" width="1.6" height="114.00" fill="#f7c5cf" stroke="#eda1b1" stroke-width="0.8"/>
<rect x="742.04" y="348.50" width="1.6" height="38.50" fill="#bfe3d1" stroke="#94c4ab" stroke-width="0.8"/>
<rect x="745.64" y="366.70" width="1.6" height="20.30" fill="#bfe3d1" stroke="#94c4ab" stroke-width="0.8"/>
<rect x="749.23" y="347.10" width="1.6" height="39.90" fill="#f7c5cf" stroke="#eda1b1" stroke-width="0.8"/>
<rect x="752.83" y="342.30" width="1.6" height="44.70" fill="#bfe3d1" stroke="#94c4ab" stroke-width="0.8"/>
<rect x="756.42" y="347.90" width="1.6" height="39.10" fill="#bfe3d1" stroke="#94c4ab" stroke-width="0.8"/>
<rect x="760.02" y="359.80" width="1.6" height="27.20" fill="#bfe3d1" stroke="#94c4ab" stroke-width="0.8"/>
<rect x="763.61" y="361.10" width="1.6" height="25.90" fill="#bfe3d1" stroke="#94c4ab" stroke-width="0.8"/>
<rect x="767.21" y="358.50" width="1.6" height="28.50" fill="#bfe3d1" stroke="#94c4ab" stroke-width="0.8"/>
<rect x="770.80" y="354.10" width="1.6" height="32.90" fill="#f7c5cf" stroke="#eda1b1" stroke-width="0.8"/>
<rect x="774.40" y="359.00" width="1.6" height="28.00" fill="#bfe3d1" stroke="#94c4ab" stroke-width="0.8"/>
<rect x="777.99" y="359.00" width="1.6" height="28.00" fill="#bfe3d1" stroke="#94c4ab" stroke-width="0.8"/>
<rect x="781.59" y="368.00" width="1.6" height="19.00" fill="#f7c5cf" stroke="#eda1b1" stroke-width="0.8"/>
<rect x="785.18" y="361.10" width="1.6" height="25.90" fill="#bfe3d1" stroke="#94c4ab" stroke-width="0.8"/>
<rect x="788.78" y="373.00" width="1.6" height="14.00" fill="#bfe3d1" stroke="#94c4ab" stroke-width="0.8"/>
<rect x="792.37" y="372.00" width="1.6" height="15.00" fill="#f7c5cf" stroke="#eda1b1" stroke-width="0.8"/>
<rect x="795.97" y="369.10" width="1.6" height="17.90" fill="#bfe3d1" stroke="#94c4ab" stroke-width="0.8"/>
<rect x="799.56" y="366.00" width="1.6" height="21.00" fill="#f7c5cf" stroke="#eda1b1" stroke-width="0.8"/>
<rect x="803.16" y="354.10" width="1.6" height="32.90" fill="#f7c5cf" stroke="#eda1b1" stroke-width="0.8"/>
<rect x="806.75" y="368.30" width="1.6" height="18.70" fill="#bfe3d1" stroke="#94c4ab" stroke-width="0.8"/>
<rect x="810.35" y="367.00" width="1.6" height="20.00" fill="#bfe3d1" stroke="#94c4ab" stroke-width="0.8"/>
<rect x="813.94" y="368.00" width="1.6" height="19.00" fill="#f7c5cf" stroke="#eda1b1" stroke-width="0.8"/>
<rect x="817.54" y="366.70" width="1.6" height="20.30" fill="#f7c5cf" stroke="#eda1b1" stroke-width="0.8"/>
<rect x="821.13" y="358.40" width="1.6" height="28.60" fill="#f7c5cf" stroke="#eda1b1" stroke-width="0.8"/>
<rect x="824.73" y="368.90" width="1.6" height="18.10" fill="#bfe3d1" stroke="#94c4ab" stroke-width="0.8"/>
<rect x="828.32" y="365.30" width="1.6" height="21.70" fill="#bfe3d1" stroke="#94c4ab" stroke-width="0.8"/>
<rect x="831.92" y="363.00" width="1.6" height="24.00" fill="#bfe3d1" stroke="#94c4ab" stroke-width="0.8"/>
<rect x="835.51" y="372.00" width="1.6" height="15.00" fill="#f7c5cf" stroke="#eda1b1" stroke-width="0.8"/>
<rect x="839.11" y="363.90" width="1.6" height="23.10" fill="#f7c5cf" stroke="#eda1b1" stroke-width="0.8"/>
<rect x="842.70" y="365.30" width="1.6" height="21.70" fill="#f7c5cf" stroke="#eda1b1" stroke-width="0.8"/>
<rect x="846.30" y="367.90" width="1.6" height="19.10" fill="#bfe3d1" stroke="#94c4ab" stroke-width="0.8"/>
<rect x="849.89" y="373.80" width="1.6" height="13.20" fill="#f7c5cf" stroke="#eda1b1" stroke-width="0.8"/>
<rect x="853.49" y="374.70" width="1.6" height="12.30" fill="#f7c5cf" stroke="#eda1b1" stroke-width="0.8"/>
<rect x="857.08" y="368.90" width="1.6" height="18.10" fill="#bfe3d1" stroke="#94c4ab" stroke-width="0.8"/>
<rect x="860.68" y="363.90" width="1.6" height="23.10" fill="#f7c5cf" stroke="#eda1b1" stroke-width="0.8"/>
<rect x="864.27" y="359.90" width="1.6" height="27.10" fill="#f7c5cf" stroke="#eda1b1" stroke-width="0.8"/>
<rect x="867.87" y="320.10" width="1.6" height="66.90" fill="#f7c5cf" stroke="#eda1b1" stroke-width="0.8"/>
<rect x="871.46" y="360.00" width="1.6" height="27.00" fill="#bfe3d1" stroke="#94c4ab" stroke-width="0.8"/>
<rect x="875.06" y="360.00" width="1.6" height="27.00" fill="#f7c5cf" stroke="#eda1b1" stroke-width="0.8"/>
<rect x="878.65" y="360.00" width="1.6" height="27.00" fill="#f7c5cf" stroke="#eda1b1" stroke-width="0.8"/>
<rect x="882.25" y="360.00" width="1.6" height="27.00" fill="#f7c5cf" stroke="#eda1b1" stroke-width="0.8"/>
<rect x="885.84" y="360.00" width="1.6" height="27.00" fill="#f7c5cf" stroke="#eda1b1" stroke-width="0.8"/>
<rect x="889.44" y="360.00" width="1.6" height="27.00" fill="#bfe3d1" stroke="#94c4ab" stroke-width="0.8"/>
<rect x="893.03" y="360.00" width="1.6" height="27.00" fill="#f7c5cf" stroke="#eda1b1" stroke-width="0.8"/>
<rect x="896.63" y="369.60" width="1.6" height="17.40" fill="#bfe3d1" stroke="#94c4ab" stroke-width="0.8"/>
<rect x="900.22" y="373.00" width="1.6" height="14.00" fill="#bfe3d1" stroke="#94c4ab" stroke-width="0.8"/>
<rect x="903.82" y="373.00" width="1.6" height="14.00" fill="#f7c5cf" stroke="#eda1b1" stroke-width="0.8"/>
<rect x="907.41" y="369.60" width="1.6" height="17.40" fill="#bfe3d1" stroke="#94c4ab" stroke-width="0.8"/>
<rect x="911.01" y="356.10" width="1.6" height="30.90" fill="#f7c5cf" stroke="#eda1b1" stroke-width="0.8"/>
<rect x="914.60" y="358.80" width="1.6" height="28.20" fill="#f7c5cf" stroke="#eda1b1" stroke-width="0.8"/>
<rect x="918.20" y="372.20" width="1.6" height="14.80" fill="#bfe3d1" stroke="#94c4ab" stroke-width="0.8"/>
<rect x="921.79" y="368.70" width="1.6" height="18.30" fill="#bfe3d1" stroke="#94c4ab" stroke-width="0.8"/>
<rect x="925.39" y="370.40" width="1.6" height="16.60" fill="#bfe3d1" stroke="#94c4ab" stroke-width="0.8"/>
<rect x="928.98" y="368.00" width="1.6" height="19.00" fill="#bfe3d1" stroke="#94c4ab" stroke-width="0.8"/>
<rect x="932.58" y="356.80" width="1.6" height="30.20" fill="#bfe3d1" stroke="#94c4ab" stroke-width="0.8"/>
<rect x="936.17" y="370.00" width="1.6" height="17.00" fill="#f7c5cf" stroke="#eda1b1" stroke-width="0.8"/>
<rect x="939.77" y="368.00" width="1.6" height="19.00" fill="#bfe3d1" stroke="#94c4ab" stroke-width="0.8"/>
<rect x="943.36" y="369.10" width="1.6" height="17.90" fill="#f7c5cf" stroke="#eda1b1" stroke-width="0.8"/>
<rect x="946.96" y="358.50" width="1.6" height="28.50" fill="#f7c5cf" stroke="#eda1b1" stroke-width="0.8"/>
<rect x="950.55" y="355.50" width="1.6" height="31.50" fill="#bfe3d1" stroke="#94c4ab" stroke-width="0.8"/>
<line x1="52.60" x2="52.60" y1="97.50" y2="109.00" stroke="#4a8a6c" stroke-width="1"/>
<rect x="51.40" y="101.80" width="2.4" height="6.70" fill="#62a585" stroke="#4a8a6c" stroke-width="0.8"/>
<line x1="56.20" x2="56.20" y1="90.40" y2="100.50" stroke="#4a8a6c" stroke-width="1"/>
<rect x="54.99" y="92.00" width="2.4" height="6.70" fill="#62a585" stroke="#4a8a6c" stroke-width="0.8"/>
<line x1="59.79" x2="59.79" y1="89.00" y2="99.30" stroke="#8a1418" stroke-width="1"/>
<rect x="58.59" y="90.50" width="2.4" height="1.00" fill="#a8181e" stroke="#8a1418" stroke-width="0.8"/>
<line x1="63.39" x2="63.39" y1="74.00" y2="90.10" stroke="#4a8a6c" stroke-width="1"/>
<rect x="62.19" y="74.00" width="2.4" height="14.30" fill="#62a585" stroke="#4a8a6c" stroke-width="0.8"/>
<line x1="66.98" x2="66.98" y1="72.00" y2="78.00" stroke="#4a8a6c" stroke-width="1"/>
<rect x="65.78" y="72.40" width="2.4" height="2.40" fill="#62a585" stroke="#4a8a6c" stroke-width="0.8"/>
<line x1="70.58" x2="70.58" y1="72.50" y2="83.40" stroke="#8a1418" stroke-width="1"/>
<rect x="69.38" y="73.00" width="2.4" height="3.70" fill="#a8181e" stroke="#8a1418" stroke-width="0.8"/>
<line x1="74.17" x2="74.17" y1="78.00" y2="82.00" stroke="#8a1418" stroke-width="1"/>
<rect x="72.97" y="79.10" width="2.4" height="2.20" fill="#a8181e" stroke="#8a1418" stroke-width="0.8"/>
<line x1="77.77" x2="77.77" y1="73.60" y2="82.20" stroke="#8a1418" stroke-width="1"/>
<rect x="76.56" y="77.70" width="2.4" height="1.40" fill="#a8181e" stroke="#8a1418" stroke-width="0.8"/>
<line x1="81.36" x2="81.36" y1="77.60" y2="83.40" stroke="#8a1418" stroke-width="1"/>
<rect x="80.16" y="79.10" width="2.4" height="2.70" fill="#a8181e" stroke="#8a1418" stroke-width="0.8"/>
<line x1="84.96" x2="84.96" y1="70.30" y2="88.70" stroke="#8a1418" stroke-width="1"/>
<rect x="83.76" y="77.70" width="2.4" height="2.00" fill="#a8181e" stroke="#8a1418" stroke-width="0.8"/>
<line x1="88.55" x2="88.55" y1="76.00" y2="83.00" stroke="#8a1418" stroke-width="1"/>
<rect x="87.35" y="77.00" width="2.4" height="3.30" fill="#a8181e" stroke="#8a1418" stroke-width="0.8"/>
<line x1="92.15" x2="92.15" y1="82.50" y2="87.70" stroke="#8a1418" stroke-width="1"/>
<rect x="90.95" y="84.00" width="2.4" height="3.00" fill="#a8181e" stroke="#8a1418" stroke-width="0.8"/>
<line x1="95.74" x2="95.74" y1="79.10" y2="87.00" stroke="#4a8a6c" stroke-width="1"/>
<rect x="94.54" y="79.10" width="2.4" height="7.90" fill="#62a585" stroke="#4a8a6c" stroke-width="0.8"/>
<line x1="99.34" x2="99.34" y1="70.60" y2="78.50" stroke="#4a8a6c" stroke-width="1"/>
<rect x="98.14" y="73.60" width="2.4" height="4.90" fill="#62a585" stroke="#4a8a6c" stroke-width="0.8"/>
<line x1="102.93" x2="102.93" y1="75.00" y2="81.60" stroke="#4a8a6c" stroke-width="1"/>
<rect x="101.73" y="75.20" width="2.4" height="3.70" fill="#62a585" stroke="#4a8a6c" stroke-width="0.8"/>
<line x1="106.53" x2="106.53" y1="72.00" y2="79.00" stroke="#4a8a6c" stroke-width="1"/>
<rect x="105.33" y="77.50" width="2.4" height="1.00" fill="#62a585" stroke="#4a8a6c" stroke-width="0.8"/>
<line x1="110.12" x2="110.12" y1="74.00" y2="80.50" stroke="#4a8a6c" stroke-width="1"/>
<rect x="108.92" y="74.80" width="2.4" height="5.50" fill="#62a585" stroke="#4a8a6c" stroke-width="0.8"/>
<line x1="113.72" x2="113.72" y1="74.00" y2="78.00" stroke="#4a8a6c" stroke-width="1"/>
<rect x="112.52" y="74.80" width="2.4" height="2.50" fill="#62a585" stroke="#4a8a6c" stroke-width="0.8"/>
<line x1="117.31" x2="117.31" y1="70.00" y2="90.00" stroke="#8a1418" stroke-width="1"/>
<rect x="116.11" y="75.20" width="2.4" height="8.20" fill="#a8181e" stroke="#8a1418" stroke-width="0.8"/>
<line x1="120.91" x2="120.91" y1="75.00" y2="81.00" stroke="#8a1418" stroke-width="1"/>
<rect x="119.70" y="76.00" width="2.4" height="4.30" fill="#a8181e" stroke="#8a1418" stroke-width="0.8"/>
<line x1="124.50" x2="124.50" y1="70.80" y2="81.50" stroke="#4a8a6c" stroke-width="1"/>
<rect x="123.30" y="74.20" width="2.4" height="7.10" fill="#62a585" stroke="#4a8a6c" stroke-width="0.8"/>
<line x1="128.09" x2="128.09" y1="75.80" y2="79.50" stroke="#8a1418" stroke-width="1"/>
<rect x="126.89" y="77.00" width="2.4" height="1.90" fill="#a8181e" stroke="#8a1418" stroke-width="0.8"/>
<line x1="131.69" x2="131.69" y1="72.00" y2="82.00" stroke="#8a1418" stroke-width="1"/>
<rect x="130.49" y="73.10" width="2.4" height="7.60" fill="#a8181e" stroke="#8a1418" stroke-width="0.8"/>
<line x1="135.28" x2="135.28" y1="72.70" y2="81.30" stroke="#4a8a6c" stroke-width="1"/>
<rect x="134.09" y="74.00" width="2.4" height="6.70" fill="#62a585" stroke="#4a8a6c" stroke-width="0.8"/>
<line x1="138.88" x2="138.88" y1="75.80" y2="81.30" stroke="#4a8a6c" stroke-width="1"/>
<rect x="137.68" y="77.00" width="2.4" height="1.20" fill="#62a585" stroke="#4a8a6c" stroke-width="0.8"/>
<line x1="142.47" x2="142.47" y1="69.00" y2="77.60" stroke="#4a8a6c" stroke-width="1"/>
<rect x="141.28" y="69.00" width="2.4" height="5.00" fill="#62a585" stroke="#4a8a6c" stroke-width="0.8"/>
<line x1="146.07" x2="146.07" y1="65.50" y2="70.30" stroke="#4a8a6c" stroke-width="1"/>
<rect x="144.87" y="65.80" width="2.4" height="2.00" fill="#62a585" stroke="#4a8a6c" stroke-width="0.8"/>
<line x1="149.67" x2="149.67" y1="62.90" y2="68.50" stroke="#8a1418" stroke-width="1"/>
<rect x="148.47" y="66.30" width="2.4" height="0.80" fill="#a8181e" stroke="#8a1418" stroke-width="0.8"/>
<line x1="153.26" x2="153.26" y1="64.00" y2="69.00" stroke="#4a8a6c" stroke-width="1"/>
<rect x="152.06" y="64.20" width="2.4" height="3.60" fill="#62a585" stroke="#4a8a6c" stroke-width="0.8"/>
<line x1="156.86" x2="156.86" y1="66.50" y2="77.60" stroke="#8a1418" stroke-width="1"/>
<rect x="155.66" y="66.60" width="2.4" height="4.90" fill="#a8181e" stroke="#8a1418" stroke-width="0.8"/>
<line x1="160.45" x2="160.45" y1="71.90" y2="78.90" stroke="#8a1418" stroke-width="1"/>
<rect x="159.25" y="72.70" width="2.4" height="2.50" fill="#a8181e" stroke="#8a1418" stroke-width="0.8"/>
<line x1="164.05" x2="164.05" y1="74.50" y2="79.50" stroke="#8a1418" stroke-width="1"/>
<rect x="162.85" y="74.80" width="2.4" height="4.10" fill="#a8181e" stroke="#8a1418" stroke-width="0.8"/>
<line x1="167.64" x2="167.64" y1="79.50" y2="85.60" stroke="#4a8a6c" stroke-width="1"/>
<rect x="166.44" y="81.70" width="2.4" height="3.30" fill="#62a585" stroke="#4a8a6c" stroke-width="0.8"/>
<line x1="171.24" x2="171.24" y1="88.00" y2="93.50" stroke="#8a1418" stroke-width="1"/>
<rect x="170.04" y="89.90" width="2.4" height="3.00" fill="#a8181e" stroke="#8a1418" stroke-width="0.8"/>
<line x1="174.83" x2="174.83" y1="87.00" y2="93.50" stroke="#4a8a6c" stroke-width="1"/>
<rect x="173.63" y="88.00" width="2.4" height="3.70" fill="#62a585" stroke="#4a8a6c" stroke-width="0.8"/>
<line x1="178.43" x2="178.43" y1="88.00" y2="92.90" stroke="#4a8a6c" stroke-width="1"/>
<rect x="177.23" y="90.20" width="2.4" height="0.80" fill="#62a585" stroke="#4a8a6c" stroke-width="0.8"/>
<line x1="182.02" x2="182.02" y1="90.50" y2="97.20" stroke="#8a1418" stroke-width="1"/>
<rect x="180.82" y="91.00" width="2.4" height="5.00" fill="#a8181e" stroke="#8a1418" stroke-width="0.8"/>
<line x1="185.62" x2="185.62" y1="97.00" y2="104.50" stroke="#8a1418" stroke-width="1"/>
<rect x="184.42" y="99.00" width="2.4" height="5.00" fill="#a8181e" stroke="#8a1418" stroke-width="0.8"/>
<line x1="189.21" x2="189.21" y1="91.70" y2="103.30" stroke="#4a8a6c" stroke-width="1"/>
<rect x="188.01" y="98.40" width="2.4" height="3.70" fill="#62a585" stroke="#4a8a6c" stroke-width="0.8"/>
<line x1="192.81" x2="192.81" y1="95.40" y2="102.10" stroke="#4a8a6c" stroke-width="1"/>
<rect x="191.61" y="100.00" width="2.4" height="2.10" fill="#62a585" stroke="#4a8a6c" stroke-width="0.8"/>
<line x1="196.40" x2="196.40" y1="87.00" y2="94.80" stroke="#8a1418" stroke-width="1"/>
<rect x="195.20" y="91.00" width="2.4" height="0.80" fill="#a8181e" stroke="#8a1418" stroke-width="0.8"/>
<line x1="200.00" x2="200.00" y1="90.50" y2="96.50" stroke="#8a1418" stroke-width="1"/>
<rect x="198.80" y="91.00" width="2.4" height="5.00" fill="#a8181e" stroke="#8a1418" stroke-width="0.8"/>
<line x1="203.59" x2="203.59" y1="94.00" y2="102.80" stroke="#8a1418" stroke-width="1"/>
<rect x="202.39" y="95.00" width="2.4" height="3.00" fill="#a8181e" stroke="#8a1418" stroke-width="0.8"/>
<line x1="207.19" x2="207.19" y1="85.00" y2="95.50" stroke="#4a8a6c" stroke-width="1"/>
<rect x="205.99" y="86.90" width="2.4" height="5.10" fill="#62a585" stroke="#4a8a6c" stroke-width="0.8"/>
<line x1="210.78" x2="210.78" y1="84.50" y2="87.50" stroke="#8a1418" stroke-width="1"/>
<rect x="209.58" y="85.00" width="2.4" height="1.70" fill="#a8181e" stroke="#8a1418" stroke-width="0.8"/>
<line x1="214.38" x2="214.38" y1="82.00" y2="91.60" stroke="#8a1418" stroke-width="1"/>
<rect x="213.18" y="85.00" width="2.4" height="6.20" fill="#a8181e" stroke="#8a1418" stroke-width="0.8"/>
<line x1="217.97" x2="217.97" y1="89.50" y2="99.80" stroke="#8a1418" stroke-width="1"/>
<rect x="216.77" y="90.00" width="2.4" height="5.20" fill="#a8181e" stroke="#8a1418" stroke-width="0.8"/>
<line x1="221.56" x2="221.56" y1="86.90" y2="96.50" stroke="#4a8a6c" stroke-width="1"/>
<rect x="220.37" y="86.90" width="2.4" height="9.60" fill="#62a585" stroke="#4a8a6c" stroke-width="0.8"/>
<line x1="225.16" x2="225.16" y1="89.60" y2="91.60" stroke="#8a1418" stroke-width="1"/>
<rect x="223.96" y="89.60" width="2.4" height="2.00" fill="#a8181e" stroke="#8a1418" stroke-width="0.8"/>
<line x1="228.75" x2="228.75" y1="82.00" y2="89.40" stroke="#4a8a6c" stroke-width="1"/>
<rect x="227.56" y="82.00" width="2.4" height="7.40" fill="#62a585" stroke="#4a8a6c" stroke-width="0.8"/>
<line x1="232.35" x2="232.35" y1="75.30" y2="82.00" stroke="#4a8a6c" stroke-width="1"/>
<rect x="231.15" y="77.10" width="2.4" height="3.10" fill="#62a585" stroke="#4a8a6c" stroke-width="0.8"/>
<line x1="235.94" x2="235.94" y1="74.00" y2="80.20" stroke="#4a8a6c" stroke-width="1"/>
<rect x="234.75" y="74.70" width="2.4" height="4.30" fill="#62a585" stroke="#4a8a6c" stroke-width="0.8"/>
<line x1="239.54" x2="239.54" y1="69.20" y2="80.20" stroke="#8a1418" stroke-width="1"/>
<rect x="238.34" y="72.20" width="2.4" height="6.80" fill="#a8181e" stroke="#8a1418" stroke-width="0.8"/>
<line x1="243.13" x2="243.13" y1="80.80" y2="86.00" stroke="#8a1418" stroke-width="1"/>
<rect x="241.94" y="83.90" width="2.4" height="1.80" fill="#a8181e" stroke="#8a1418" stroke-width="0.8"/>
<line x1="246.73" x2="246.73" y1="87.00" y2="94.30" stroke="#4a8a6c" stroke-width="1"/>
<rect x="245.53" y="87.20" width="2.4" height="4.00" fill="#62a585" stroke="#4a8a6c" stroke-width="0.8"/>
<line x1="250.33" x2="250.33" y1="82.00" y2="88.50" stroke="#4a8a6c" stroke-width="1"/>
<rect x="249.13" y="83.90" width="2.4" height="4.50" fill="#62a585" stroke="#4a8a6c" stroke-width="0.8"/>
<line x1="253.92" x2="253.92" y1="75.90" y2="84.50" stroke="#4a8a6c" stroke-width="1"/>
<rect x="252.72" y="83.90" width="2.4" height="0.80" fill="#62a585" stroke="#4a8a6c" stroke-width="0.8"/>
<line x1="257.52" x2="257.52" y1="74.50" y2="81.40" stroke="#4a8a6c" stroke-width="1"/>
<rect x="256.32" y="74.70" width="2.4" height="4.30" fill="#62a585" stroke="#4a8a6c" stroke-width="0.8"/>
<line x1="261.11" x2="261.11" y1="72.20" y2="79.00" stroke="#8a1418" stroke-width="1"/>
<rect x="259.91" y="73.50" width="2.4" height="3.60" fill="#a8181e" stroke="#8a1418" stroke-width="0.8"/>
<line x1="264.71" x2="264.71" y1="75.90" y2="81.40" stroke="#8a1418" stroke-width="1"/>
<rect x="263.51" y="77.10" width="2.4" height="1.20" fill="#a8181e" stroke="#8a1418" stroke-width="0.8"/>
<line x1="268.30" x2="268.30" y1="75.90" y2="85.70" stroke="#8a1418" stroke-width="1"/>
<rect x="267.10" y="80.20" width="2.4" height="4.90" fill="#a8181e" stroke="#8a1418" stroke-width="0.8"/>
<line x1="271.90" x2="271.90" y1="88.70" y2="110.00" stroke="#8a1418" stroke-width="1"/>
<rect x="270.70" y="91.80" width="2.4" height="9.80" fill="#a8181e" stroke="#8a1418" stroke-width="0.8"/>
<line x1="275.49" x2="275.49" y1="99.20" y2="107.50" stroke="#8a1418" stroke-width="1"/>
<rect x="274.29" y="104.60" width="2.4" height="2.50" fill="#a8181e" stroke="#8a1418" stroke-width="0.8"/>
<line x1="279.09" x2="279.09" y1="107.50" y2="111.20" stroke="#4a8a6c" stroke-width="1"/>
<rect x="277.89" y="108.40" width="2.4" height="1.90" fill="#62a585" stroke="#4a8a6c" stroke-width="0.8"/>
<line x1="282.68" x2="282.68" y1="102.50" y2="110.60" stroke="#8a1418" stroke-width="1"/>
<rect x="281.48" y="103.00" width="2.4" height="7.00" fill="#a8181e" stroke="#8a1418" stroke-width="0.8"/>
<line x1="286.28" x2="286.28" y1="100.80" y2="109.00" stroke="#4a8a6c" stroke-width="1"/>
<rect x="285.08" y="102.30" width="2.4" height="6.40" fill="#62a585" stroke="#4a8a6c" stroke-width="0.8"/>
<line x1="289.87" x2="289.87" y1="95.00" y2="102.30" stroke="#4a8a6c" stroke-width="1"/>
<rect x="288.67" y="95.30" width="2.4" height="6.70" fill="#62a585" stroke="#4a8a6c" stroke-width="0.8"/>
<line x1="293.47" x2="293.47" y1="86.10" y2="99.60" stroke="#8a1418" stroke-width="1"/>
<rect x="292.27" y="88.00" width="2.4" height="11.00" fill="#a8181e" stroke="#8a1418" stroke-width="0.8"/>
<line x1="297.06" x2="297.06" y1="100.20" y2="112.40" stroke="#8a1418" stroke-width="1"/>
<rect x="295.86" y="101.40" width="2.4" height="8.00" fill="#a8181e" stroke="#8a1418" stroke-width="0.8"/>
<line x1="300.66" x2="300.66" y1="107.00" y2="110.60" stroke="#8a1418" stroke-width="1"/>
<rect x="299.46" y="108.40" width="2.4" height="0.80" fill="#a8181e" stroke="#8a1418" stroke-width="0.8"/>
<line x1="304.25" x2="304.25" y1="103.90" y2="107.50" stroke="#4a8a6c" stroke-width="1"/>
<rect x="303.05" y="105.40" width="2.4" height="1.30" fill="#62a585" stroke="#4a8a6c" stroke-width="0.8"/>
<line x1="307.85" x2="307.85" y1="101.50" y2="104.50" stroke="#4a8a6c" stroke-width="1"/>
<rect x="306.65" y="102.00" width="2.4" height="1.90" fill="#62a585" stroke="#4a8a6c" stroke-width="0.8"/>
<line x1="311.44" x2="311.44" y1="87.30" y2="99.00" stroke="#4a8a6c" stroke-width="1"/>
<rect x="310.24" y="92.20" width="2.4" height="4.30" fill="#62a585" stroke="#4a8a6c" stroke-width="0.8"/>
<line x1="315.04" x2="315.04" y1="95.30" y2="102.60" stroke="#8a1418" stroke-width="1"/>
<rect x="313.84" y="97.70" width="2.4" height="2.50" fill="#a8181e" stroke="#8a1418" stroke-width="0.8"/>
<line x1="318.63" x2="318.63" y1="97.50" y2="103.20" stroke="#8a1418" stroke-width="1"/>
<rect x="317.43" y="97.70" width="2.4" height="3.10" fill="#a8181e" stroke="#8a1418" stroke-width="0.8"/>
<line x1="322.23" x2="322.23" y1="103.40" y2="131.60" stroke="#8a1418" stroke-width="1"/>
<rect x="321.03" y="103.40" width="2.4" height="28.20" fill="#a8181e" stroke="#8a1418" stroke-width="0.8"/>
<line x1="325.82" x2="325.82" y1="117.80" y2="125.00" stroke="#4a8a6c" stroke-width="1"/>
<rect x="324.62" y="118.30" width="2.4" height="6.20" fill="#62a585" stroke="#4a8a6c" stroke-width="0.8"/>
<line x1="329.42" x2="329.42" y1="115.60" y2="119.60" stroke="#4a8a6c" stroke-width="1"/>
<rect x="328.22" y="117.10" width="2.4" height="1.20" fill="#62a585" stroke="#4a8a6c" stroke-width="0.8"/>
<line x1="333.01" x2="333.01" y1="114.90" y2="123.00" stroke="#8a1418" stroke-width="1"/>
<rect x="331.81" y="117.70" width="2.4" height="4.90" fill="#a8181e" stroke="#8a1418" stroke-width="0.8"/>
<line x1="336.61" x2="336.61" y1="120.50" y2="124.50" stroke="#8a1418" stroke-width="1"/>
<rect x="335.41" y="121.00" width="2.4" height="1.60" fill="#a8181e" stroke="#8a1418" stroke-width="0.8"/>
<line x1="340.20" x2="340.20" y1="119.60" y2="124.50" stroke="#8a1418" stroke-width="1"/>
<rect x="339.00" y="122.00" width="2.4" height="0.80" fill="#a8181e" stroke="#8a1418" stroke-width="0.8"/>
<line x1="343.80" x2="343.80" y1="123.80" y2="131.80" stroke="#4a8a6c" stroke-width="1"/>
<rect x="342.60" y="127.90" width="2.4" height="0.80" fill="#62a585" stroke="#4a8a6c" stroke-width="0.8"/>
<line x1="347.39" x2="347.39" y1="128.10" y2="131.60" stroke="#8a1418" stroke-width="1"/>
<rect x="346.19" y="128.10" width="2.4" height="3.50" fill="#a8181e" stroke="#8a1418" stroke-width="0.8"/>
<line x1="350.99" x2="350.99" y1="130.30" y2="132.80" stroke="#4a8a6c" stroke-width="1"/>
<rect x="349.79" y="130.30" width="2.4" height="2.50" fill="#62a585" stroke="#4a8a6c" stroke-width="0.8"/>
<line x1="354.58" x2="354.58" y1="129.00" y2="132.50" stroke="#4a8a6c" stroke-width="1"/>
<rect x="353.38" y="129.40" width="2.4" height="2.60" fill="#62a585" stroke="#4a8a6c" stroke-width="0.8"/>
<line x1="358.18" x2="358.18" y1="124.50" y2="131.80" stroke="#4a8a6c" stroke-width="1"/>
<rect x="356.98" y="130.60" width="2.4" height="1.00" fill="#62a585" stroke="#4a8a6c" stroke-width="0.8"/>
<line x1="361.77" x2="361.77" y1="121.40" y2="133.00" stroke="#4a8a6c" stroke-width="1"/>
<rect x="360.57" y="123.20" width="2.4" height="9.60" fill="#62a585" stroke="#4a8a6c" stroke-width="0.8"/>
<line x1="365.37" x2="365.37" y1="120.80" y2="126.30" stroke="#8a1418" stroke-width="1"/>
<rect x="364.17" y="123.00" width="2.4" height="0.90" fill="#a8181e" stroke="#8a1418" stroke-width="0.8"/>
<line x1="368.96" x2="368.96" y1="125.50" y2="132.00" stroke="#8a1418" stroke-width="1"/>
<rect x="367.76" y="126.30" width="2.4" height="5.50" fill="#a8181e" stroke="#8a1418" stroke-width="0.8"/>
<line x1="372.56" x2="372.56" y1="127.50" y2="130.50" stroke="#4a8a6c" stroke-width="1"/>
<rect x="371.36" y="128.10" width="2.4" height="1.90" fill="#62a585" stroke="#4a8a6c" stroke-width="0.8"/>
<line x1="376.15" x2="376.15" y1="129.50" y2="140.00" stroke="#8a1418" stroke-width="1"/>
<rect x="374.95" y="130.00" width="2.4" height="9.80" fill="#a8181e" stroke="#8a1418" stroke-width="0.8"/>
<line x1="379.75" x2="379.75" y1="131.20" y2="135.50" stroke="#4a8a6c" stroke-width="1"/>
<rect x="378.55" y="132.00" width="2.4" height="2.30" fill="#62a585" stroke="#4a8a6c" stroke-width="0.8"/>
<line x1="383.34" x2="383.34" y1="125.70" y2="131.50" stroke="#4a8a6c" stroke-width="1"/>
<rect x="382.14" y="129.10" width="2.4" height="2.10" fill="#62a585" stroke="#4a8a6c" stroke-width="0.8"/>
<line x1="386.94" x2="386.94" y1="128.00" y2="138.50" stroke="#8a1418" stroke-width="1"/>
<rect x="385.74" y="128.40" width="2.4" height="9.80" fill="#a8181e" stroke="#8a1418" stroke-width="0.8"/>
<line x1="390.53" x2="390.53" y1="133.00" y2="135.80" stroke="#4a8a6c" stroke-width="1"/>
<rect x="389.33" y="133.60" width="2.4" height="1.90" fill="#62a585" stroke="#4a8a6c" stroke-width="0.8"/>
<line x1="394.13" x2="394.13" y1="133.00" y2="135.80" stroke="#4a8a6c" stroke-width="1"/>
<rect x="392.93" y="133.60" width="2.4" height="1.90" fill="#62a585" stroke="#4a8a6c" stroke-width="0.8"/>
<line x1="397.72" x2="397.72" y1="123.00" y2="147.00" stroke="#8a1418" stroke-width="1"/>
<rect x="396.52" y="124.50" width="2.4" height="22.10" fill="#a8181e" stroke="#8a1418" stroke-width="0.8"/>
<line x1="401.32" x2="401.32" y1="148.50" y2="155.40" stroke="#8a1418" stroke-width="1"/>
<rect x="400.12" y="148.80" width="2.4" height="5.10" fill="#a8181e" stroke="#8a1418" stroke-width="0.8"/>
<line x1="404.91" x2="404.91" y1="150.20" y2="154.30" stroke="#4a8a6c" stroke-width="1"/>
<rect x="403.71" y="151.70" width="2.4" height="1.20" fill="#62a585" stroke="#4a8a6c" stroke-width="0.8"/>
<line x1="408.51" x2="408.51" y1="152.00" y2="168.60" stroke="#8a1418" stroke-width="1"/>
<rect x="407.31" y="152.40" width="2.4" height="11.10" fill="#a8181e" stroke="#8a1418" stroke-width="0.8"/>
<line x1="412.10" x2="412.10" y1="161.30" y2="173.00" stroke="#8a1418" stroke-width="1"/>
<rect x="410.90" y="162.70" width="2.4" height="8.80" fill="#a8181e" stroke="#8a1418" stroke-width="0.8"/>
<line x1="415.70" x2="415.70" y1="153.20" y2="164.20" stroke="#4a8a6c" stroke-width="1"/>
<rect x="414.50" y="157.30" width="2.4" height="5.40" fill="#62a585" stroke="#4a8a6c" stroke-width="0.8"/>
<line x1="419.29" x2="419.29" y1="135.00" y2="149.50" stroke="#4a8a6c" stroke-width="1"/>
<rect x="418.09" y="135.30" width="2.4" height="10.50" fill="#62a585" stroke="#4a8a6c" stroke-width="0.8"/>
<line x1="422.89" x2="422.89" y1="135.50" y2="140.00" stroke="#4a8a6c" stroke-width="1"/>
<rect x="421.69" y="138.50" width="2.4" height="0.80" fill="#62a585" stroke="#4a8a6c" stroke-width="0.8"/>
<line x1="426.48" x2="426.48" y1="140.70" y2="146.10" stroke="#8a1418" stroke-width="1"/>
<rect x="425.28" y="142.60" width="2.4" height="1.00" fill="#a8181e" stroke="#8a1418" stroke-width="0.8"/>
<line x1="430.08" x2="430.08" y1="140.00" y2="143.60" stroke="#4a8a6c" stroke-width="1"/>
<rect x="428.88" y="141.10" width="2.4" height="1.80" fill="#62a585" stroke="#4a8a6c" stroke-width="0.8"/>
<line x1="433.67" x2="433.67" y1="129.70" y2="143.60" stroke="#4a8a6c" stroke-width="1"/>
<rect x="432.47" y="138.20" width="2.4" height="4.70" fill="#62a585" stroke="#4a8a6c" stroke-width="0.8"/>
<line x1="437.27" x2="437.27" y1="136.50" y2="149.50" stroke="#8a1418" stroke-width="1"/>
<rect x="436.07" y="136.70" width="2.4" height="6.90" fill="#a8181e" stroke="#8a1418" stroke-width="0.8"/>
<line x1="440.86" x2="440.86" y1="142.00" y2="149.50" stroke="#8a1418" stroke-width="1"/>
<rect x="439.66" y="142.60" width="2.4" height="1.00" fill="#a8181e" stroke="#8a1418" stroke-width="0.8"/>
<line x1="444.46" x2="444.46" y1="141.50" y2="147.30" stroke="#4a8a6c" stroke-width="1"/>
<rect x="443.26" y="142.20" width="2.4" height="0.80" fill="#62a585" stroke="#4a8a6c" stroke-width="0.8"/>
<line x1="448.05" x2="448.05" y1="138.50" y2="144.40" stroke="#4a8a6c" stroke-width="1"/>
<rect x="446.85" y="138.50" width="2.4" height="5.90" fill="#62a585" stroke="#4a8a6c" stroke-width="0.8"/>
<line x1="451.65" x2="451.65" y1="138.50" y2="143.60" stroke="#4a8a6c" stroke-width="1"/>
<rect x="450.45" y="138.50" width="2.4" height="5.10" fill="#62a585" stroke="#4a8a6c" stroke-width="0.8"/>
<line x1="455.24" x2="455.24" y1="128.20" y2="141.40" stroke="#4a8a6c" stroke-width="1"/>
<rect x="454.04" y="131.20" width="2.4" height="8.00" fill="#62a585" stroke="#4a8a6c" stroke-width="0.8"/>
<line x1="458.84" x2="458.84" y1="129.50" y2="137.00" stroke="#8a1418" stroke-width="1"/>
<rect x="457.64" y="129.70" width="2.4" height="4.40" fill="#a8181e" stroke="#8a1418" stroke-width="0.8"/>
<line x1="462.43" x2="462.43" y1="131.50" y2="136.30" stroke="#4a8a6c" stroke-width="1"/>
<rect x="461.23" y="131.90" width="2.4" height="2.90" fill="#62a585" stroke="#4a8a6c" stroke-width="0.8"/>
<line x1="466.03" x2="466.03" y1="123.80" y2="129.00" stroke="#4a8a6c" stroke-width="1"/>
<rect x="464.83" y="125.30" width="2.4" height="2.60" fill="#62a585" stroke="#4a8a6c" stroke-width="0.8"/>
<line x1="469.62" x2="469.62" y1="119.10" y2="125.60" stroke="#4a8a6c" stroke-width="1"/>
<rect x="468.42" y="120.90" width="2.4" height="3.60" fill="#62a585" stroke="#4a8a6c" stroke-width="0.8"/>
<line x1="473.22" x2="473.22" y1="118.00" y2="125.60" stroke="#8a1418" stroke-width="1"/>
<rect x="472.02" y="118.50" width="2.4" height="1.90" fill="#a8181e" stroke="#8a1418" stroke-width="0.8"/>
<line x1="476.81" x2="476.81" y1="119.70" y2="133.60" stroke="#8a1418" stroke-width="1"/>
<rect x="475.61" y="119.70" width="2.4" height="13.90" fill="#a8181e" stroke="#8a1418" stroke-width="0.8"/>
<line x1="480.41" x2="480.41" y1="128.50" y2="135.80" stroke="#8a1418" stroke-width="1"/>
<rect x="479.21" y="131.40" width="2.4" height="1.20" fill="#a8181e" stroke="#8a1418" stroke-width="0.8"/>
<line x1="484.00" x2="484.00" y1="130.00" y2="137.30" stroke="#4a8a6c" stroke-width="1"/>
<rect x="482.80" y="130.20" width="2.4" height="2.70" fill="#62a585" stroke="#4a8a6c" stroke-width="0.8"/>
<line x1="487.60" x2="487.60" y1="127.00" y2="131.40" stroke="#4a8a6c" stroke-width="1"/>
<rect x="486.40" y="127.00" width="2.4" height="4.40" fill="#62a585" stroke="#4a8a6c" stroke-width="0.8"/>
<line x1="491.19" x2="491.19" y1="122.30" y2="133.00" stroke="#4a8a6c" stroke-width="1"/>
<rect x="489.99" y="129.20" width="2.4" height="3.70" fill="#62a585" stroke="#4a8a6c" stroke-width="0.8"/>
<line x1="494.79" x2="494.79" y1="132.50" y2="140.00" stroke="#4a8a6c" stroke-width="1"/>
<rect x="493.59" y="132.90" width="2.4" height="3.70" fill="#62a585" stroke="#4a8a6c" stroke-width="0.8"/>
<line x1="498.38" x2="498.38" y1="119.00" y2="128.20" stroke="#4a8a6c" stroke-width="1"/>
<rect x="497.18" y="119.00" width="2.4" height="9.20" fill="#62a585" stroke="#4a8a6c" stroke-width="0.8"/>
<line x1="501.98" x2="501.98" y1="115.50" y2="123.30" stroke="#4a8a6c" stroke-width="1"/>
<rect x="500.78" y="116.00" width="2.4" height="4.40" fill="#62a585" stroke="#4a8a6c" stroke-width="0.8"/>
<line x1="505.57" x2="505.57" y1="115.00" y2="122.60" stroke="#8a1418" stroke-width="1"/>
<rect x="504.37" y="115.00" width="2.4" height="7.60" fill="#a8181e" stroke="#8a1418" stroke-width="0.8"/>
<line x1="509.17" x2="509.17" y1="110.10" y2="135.80" stroke="#4a8a6c" stroke-width="1"/>
<rect x="507.97" y="113.80" width="2.4" height="3.70" fill="#62a585" stroke="#4a8a6c" stroke-width="0.8"/>
<line x1="512.76" x2="512.76" y1="115.00" y2="128.50" stroke="#8a1418" stroke-width="1"/>
<rect x="511.56" y="115.00" width="2.4" height="13.50" fill="#a8181e" stroke="#8a1418" stroke-width="0.8"/>
<line x1="516.36" x2="516.36" y1="125.00" y2="128.50" stroke="#4a8a6c" stroke-width="1"/>
<rect x="515.15" y="125.30" width="2.4" height="2.00" fill="#62a585" stroke="#4a8a6c" stroke-width="0.8"/>
<line x1="519.95" x2="519.95" y1="125.50" y2="129.20" stroke="#4a8a6c" stroke-width="1"/>
<rect x="518.75" y="127.00" width="2.4" height="1.20" fill="#62a585" stroke="#4a8a6c" stroke-width="0.8"/>
<line x1="523.55" x2="523.55" y1="130.80" y2="146.80" stroke="#8a1418" stroke-width="1"/>
<rect x="522.35" y="131.10" width="2.4" height="13.50" fill="#a8181e" stroke="#8a1418" stroke-width="0.8"/>
<line x1="527.14" x2="527.14" y1="142.40" y2="144.60" stroke="#4a8a6c" stroke-width="1"/>
<rect x="525.94" y="142.40" width="2.4" height="2.20" fill="#62a585" stroke="#4a8a6c" stroke-width="0.8"/>
<line x1="530.74" x2="530.74" y1="143.00" y2="146.00" stroke="#8a1418" stroke-width="1"/>
<rect x="529.53" y="143.90" width="2.4" height="1.00" fill="#a8181e" stroke="#8a1418" stroke-width="0.8"/>
<line x1="534.33" x2="534.33" y1="132.90" y2="144.20" stroke="#4a8a6c" stroke-width="1"/>
<rect x="533.13" y="136.60" width="2.4" height="7.30" fill="#62a585" stroke="#4a8a6c" stroke-width="0.8"/>
<line x1="537.93" x2="537.93" y1="135.10" y2="144.20" stroke="#4a8a6c" stroke-width="1"/>
<rect x="536.73" y="138.80" width="2.4" height="5.10" fill="#62a585" stroke="#4a8a6c" stroke-width="0.8"/>
<line x1="541.52" x2="541.52" y1="140.60" y2="157.30" stroke="#8a1418" stroke-width="1"/>
<rect x="540.32" y="143.10" width="2.4" height="13.90" fill="#a8181e" stroke="#8a1418" stroke-width="0.8"/>
<line x1="545.12" x2="545.12" y1="153.30" y2="162.20" stroke="#8a1418" stroke-width="1"/>
<rect x="543.91" y="153.30" width="2.4" height="8.90" fill="#a8181e" stroke="#8a1418" stroke-width="0.8"/>
<line x1="548.71" x2="548.71" y1="152.60" y2="161.00" stroke="#8a1418" stroke-width="1"/>
<rect x="547.51" y="154.80" width="2.4" height="5.90" fill="#a8181e" stroke="#8a1418" stroke-width="0.8"/>
<line x1="552.31" x2="552.31" y1="155.50" y2="160.30" stroke="#4a8a6c" stroke-width="1"/>
<rect x="551.11" y="157.80" width="2.4" height="2.20" fill="#62a585" stroke="#4a8a6c" stroke-width="0.8"/>
<line x1="555.90" x2="555.90" y1="152.30" y2="156.50" stroke="#8a1418" stroke-width="1"/>
<rect x="554.70" y="153.80" width="2.4" height="2.50" fill="#a8181e" stroke="#8a1418" stroke-width="0.8"/>
<line x1="559.50" x2="559.50" y1="153.30" y2="157.80" stroke="#4a8a6c" stroke-width="1"/>
<rect x="558.29" y="156.30" width="2.4" height="0.80" fill="#62a585" stroke="#4a8a6c" stroke-width="0.8"/>
<line x1="563.09" x2="563.09" y1="164.00" y2="177.60" stroke="#8a1418" stroke-width="1"/>
<rect x="561.89" y="164.40" width="2.4" height="5.80" fill="#a8181e" stroke="#8a1418" stroke-width="0.8"/>
<line x1="566.69" x2="566.69" y1="168.80" y2="181.20" stroke="#8a1418" stroke-width="1"/>
<rect x="565.49" y="169.00" width="2.4" height="10.00" fill="#a8181e" stroke="#8a1418" stroke-width="0.8"/>
<line x1="570.28" x2="570.28" y1="180.50" y2="187.60" stroke="#4a8a6c" stroke-width="1"/>
<rect x="569.08" y="180.80" width="2.4" height="4.80" fill="#62a585" stroke="#4a8a6c" stroke-width="0.8"/>
<line x1="573.88" x2="573.88" y1="177.60" y2="183.60" stroke="#4a8a6c" stroke-width="1"/>
<rect x="572.67" y="180.50" width="2.4" height="2.90" fill="#62a585" stroke="#4a8a6c" stroke-width="0.8"/>
<line x1="577.47" x2="577.47" y1="172.90" y2="180.00" stroke="#8a1418" stroke-width="1"/>
<rect x="576.27" y="177.60" width="2.4" height="2.20" fill="#a8181e" stroke="#8a1418" stroke-width="0.8"/>
<line x1="581.07" x2="581.07" y1="176.10" y2="185.60" stroke="#4a8a6c" stroke-width="1"/>
<rect x="579.87" y="181.70" width="2.4" height="2.50" fill="#62a585" stroke="#4a8a6c" stroke-width="0.8"/>
<line x1="584.66" x2="584.66" y1="173.50" y2="179.80" stroke="#8a1418" stroke-width="1"/>
<rect x="583.46" y="176.90" width="2.4" height="1.90" fill="#a8181e" stroke="#8a1418" stroke-width="0.8"/>
<line x1="588.25" x2="588.25" y1="179.00" y2="187.80" stroke="#8a1418" stroke-width="1"/>
<rect x="587.05" y="181.70" width="2.4" height="1.80" fill="#a8181e" stroke="#8a1418" stroke-width="0.8"/>
<line x1="591.85" x2="591.85" y1="178.50" y2="184.90" stroke="#4a8a6c" stroke-width="1"/>
<rect x="590.65" y="178.80" width="2.4" height="3.20" fill="#62a585" stroke="#4a8a6c" stroke-width="0.8"/>
<line x1="595.45" x2="595.45" y1="174.60" y2="179.00" stroke="#8a1418" stroke-width="1"/>
<rect x="594.25" y="177.30" width="2.4" height="1.50" fill="#a8181e" stroke="#8a1418" stroke-width="0.8"/>
<line x1="599.04" x2="599.04" y1="175.00" y2="179.30" stroke="#4a8a6c" stroke-width="1"/>
<rect x="597.84" y="175.40" width="2.4" height="3.60" fill="#62a585" stroke="#4a8a6c" stroke-width="0.8"/>
<line x1="602.64" x2="602.64" y1="172.90" y2="176.30" stroke="#4a8a6c" stroke-width="1"/>
<rect x="601.44" y="173.90" width="2.4" height="2.20" fill="#62a585" stroke="#4a8a6c" stroke-width="0.8"/>
<line x1="606.23" x2="606.23" y1="175.50" y2="179.00" stroke="#4a8a6c" stroke-width="1"/>
<rect x="605.03" y="175.80" width="2.4" height="1.80" fill="#62a585" stroke="#4a8a6c" stroke-width="0.8"/>
<line x1="609.83" x2="609.83" y1="173.20" y2="179.80" stroke="#4a8a6c" stroke-width="1"/>
<rect x="608.62" y="173.50" width="2.4" height="3.40" fill="#62a585" stroke="#4a8a6c" stroke-width="0.8"/>
<line x1="613.42" x2="613.42" y1="165.10" y2="175.20" stroke="#4a8a6c" stroke-width="1"/>
<rect x="612.22" y="172.40" width="2.4" height="2.50" fill="#62a585" stroke="#4a8a6c" stroke-width="0.8"/>
<line x1="617.02" x2="617.02" y1="162.60" y2="169.50" stroke="#4a8a6c" stroke-width="1"/>
<rect x="615.82" y="165.60" width="2.4" height="3.60" fill="#62a585" stroke="#4a8a6c" stroke-width="0.8"/>
<line x1="620.61" x2="620.61" y1="166.00" y2="175.10" stroke="#8a1418" stroke-width="1"/>
<rect x="619.41" y="166.30" width="2.4" height="7.30" fill="#a8181e" stroke="#8a1418" stroke-width="0.8"/>
<line x1="624.21" x2="624.21" y1="170.70" y2="175.10" stroke="#4a8a6c" stroke-width="1"/>
<rect x="623.00" y="172.20" width="2.4" height="1.90" fill="#62a585" stroke="#4a8a6c" stroke-width="0.8"/>
<line x1="627.80" x2="627.80" y1="170.50" y2="178.50" stroke="#4a8a6c" stroke-width="1"/>
<rect x="626.60" y="170.70" width="2.4" height="0.80" fill="#62a585" stroke="#4a8a6c" stroke-width="0.8"/>
<line x1="631.40" x2="631.40" y1="169.20" y2="189.00" stroke="#4a8a6c" stroke-width="1"/>
<rect x="630.20" y="173.60" width="2.4" height="10.70" fill="#62a585" stroke="#4a8a6c" stroke-width="0.8"/>
<line x1="634.99" x2="634.99" y1="169.60" y2="177.00" stroke="#8a1418" stroke-width="1"/>
<rect x="633.79" y="171.10" width="2.4" height="4.70" fill="#a8181e" stroke="#8a1418" stroke-width="0.8"/>
<line x1="638.59" x2="638.59" y1="166.30" y2="178.00" stroke="#4a8a6c" stroke-width="1"/>
<rect x="637.38" y="172.20" width="2.4" height="2.90" fill="#62a585" stroke="#4a8a6c" stroke-width="0.8"/>
<line x1="642.18" x2="642.18" y1="175.80" y2="182.90" stroke="#8a1418" stroke-width="1"/>
<rect x="640.98" y="178.00" width="2.4" height="1.00" fill="#a8181e" stroke="#8a1418" stroke-width="0.8"/>
<line x1="645.78" x2="645.78" y1="177.30" y2="182.40" stroke="#4a8a6c" stroke-width="1"/>
<rect x="644.58" y="177.60" width="2.4" height="2.60" fill="#62a585" stroke="#4a8a6c" stroke-width="0.8"/>
<line x1="649.37" x2="649.37" y1="173.60" y2="178.80" stroke="#4a8a6c" stroke-width="1"/>
<rect x="648.17" y="173.60" width="2.4" height="5.20" fill="#62a585" stroke="#4a8a6c" stroke-width="0.8"/>
<line x1="652.97" x2="652.97" y1="173.60" y2="182.40" stroke="#4a8a6c" stroke-width="1"/>
<rect x="651.76" y="175.10" width="2.4" height="0.80" fill="#62a585" stroke="#4a8a6c" stroke-width="0.8"/>
<line x1="656.56" x2="656.56" y1="172.20" y2="177.30" stroke="#4a8a6c" stroke-width="1"/>
<rect x="655.36" y="175.50" width="2.4" height="1.10" fill="#62a585" stroke="#4a8a6c" stroke-width="0.8"/>
<line x1="660.16" x2="660.16" y1="174.40" y2="177.60" stroke="#8a1418" stroke-width="1"/>
<rect x="658.96" y="174.40" width="2.4" height="3.20" fill="#a8181e" stroke="#8a1418" stroke-width="0.8"/>
<line x1="663.75" x2="663.75" y1="174.50" y2="177.00" stroke="#4a8a6c" stroke-width="1"/>
<rect x="662.55" y="175.10" width="2.4" height="1.00" fill="#62a585" stroke="#4a8a6c" stroke-width="0.8"/>
<line x1="667.35" x2="667.35" y1="172.60" y2="176.30" stroke="#8a1418" stroke-width="1"/>
<rect x="666.14" y="174.40" width="2.4" height="1.40" fill="#a8181e" stroke="#8a1418" stroke-width="0.8"/>
<line x1="670.94" x2="670.94" y1="174.40" y2="192.70" stroke="#8a1418" stroke-width="1"/>
<rect x="669.74" y="175.80" width="2.4" height="12.90" fill="#a8181e" stroke="#8a1418" stroke-width="0.8"/>
<line x1="674.54" x2="674.54" y1="180.00" y2="193.40" stroke="#4a8a6c" stroke-width="1"/>
<rect x="673.34" y="180.20" width="2.4" height="11.80" fill="#62a585" stroke="#4a8a6c" stroke-width="0.8"/>
<line x1="678.13" x2="678.13" y1="185.00" y2="192.00" stroke="#8a1418" stroke-width="1"/>
<rect x="676.93" y="185.40" width="2.4" height="2.90" fill="#a8181e" stroke="#8a1418" stroke-width="0.8"/>
<line x1="681.73" x2="681.73" y1="175.50" y2="185.80" stroke="#4a8a6c" stroke-width="1"/>
<rect x="680.52" y="175.50" width="2.4" height="10.30" fill="#62a585" stroke="#4a8a6c" stroke-width="0.8"/>
<line x1="685.32" x2="685.32" y1="175.20" y2="180.20" stroke="#8a1418" stroke-width="1"/>
<rect x="684.12" y="175.50" width="2.4" height="3.50" fill="#a8181e" stroke="#8a1418" stroke-width="0.8"/>
<line x1="688.92" x2="688.92" y1="164.60" y2="178.50" stroke="#4a8a6c" stroke-width="1"/>
<rect x="687.72" y="168.10" width="2.4" height="10.20" fill="#62a585" stroke="#4a8a6c" stroke-width="0.8"/>
<line x1="692.51" x2="692.51" y1="164.00" y2="170.00" stroke="#4a8a6c" stroke-width="1"/>
<rect x="691.31" y="165.50" width="2.4" height="1.00" fill="#62a585" stroke="#4a8a6c" stroke-width="0.8"/>
<line x1="696.11" x2="696.11" y1="153.20" y2="168.50" stroke="#4a8a6c" stroke-width="1"/>
<rect x="694.90" y="165.20" width="2.4" height="1.90" fill="#62a585" stroke="#4a8a6c" stroke-width="0.8"/>
<line x1="699.70" x2="699.70" y1="166.10" y2="180.20" stroke="#8a1418" stroke-width="1"/>
<rect x="698.50" y="166.10" width="2.4" height="14.10" fill="#a8181e" stroke="#8a1418" stroke-width="0.8"/>
<line x1="703.30" x2="703.30" y1="179.50" y2="186.10" stroke="#8a1418" stroke-width="1"/>
<rect x="702.10" y="179.80" width="2.4" height="1.40" fill="#a8181e" stroke="#8a1418" stroke-width="0.8"/>
<line x1="706.89" x2="706.89" y1="184.80" y2="193.00" stroke="#8a1418" stroke-width="1"/>
<rect x="705.69" y="185.10" width="2.4" height="3.30" fill="#a8181e" stroke="#8a1418" stroke-width="0.8"/>
<line x1="710.49" x2="710.49" y1="194.90" y2="201.70" stroke="#8a1418" stroke-width="1"/>
<rect x="709.28" y="196.90" width="2.4" height="4.50" fill="#a8181e" stroke="#8a1418" stroke-width="0.8"/>
<line x1="714.08" x2="714.08" y1="203.70" y2="213.10" stroke="#4a8a6c" stroke-width="1"/>
<rect x="712.88" y="205.70" width="2.4" height="1.50" fill="#62a585" stroke="#4a8a6c" stroke-width="0.8"/>
<line x1="717.68" x2="717.68" y1="205.80" y2="214.50" stroke="#8a1418" stroke-width="1"/>
<rect x="716.48" y="206.10" width="2.4" height="5.00" fill="#a8181e" stroke="#8a1418" stroke-width="0.8"/>
<line x1="721.27" x2="721.27" y1="210.80" y2="219.00" stroke="#8a1418" stroke-width="1"/>
<rect x="720.07" y="211.10" width="2.4" height="2.80" fill="#a8181e" stroke="#8a1418" stroke-width="0.8"/>
<line x1="724.87" x2="724.87" y1="192.90" y2="209.60" stroke="#4a8a6c" stroke-width="1"/>
<rect x="723.66" y="197.40" width="2.4" height="7.30" fill="#62a585" stroke="#4a8a6c" stroke-width="0.8"/>
<line x1="728.46" x2="728.46" y1="191.00" y2="200.80" stroke="#4a8a6c" stroke-width="1"/>
<rect x="727.26" y="191.00" width="2.4" height="9.80" fill="#62a585" stroke="#4a8a6c" stroke-width="0.8"/>
<line x1="732.06" x2="732.06" y1="186.50" y2="204.00" stroke="#8a1418" stroke-width="1"/>
<rect x="730.86" y="188.40" width="2.4" height="15.30" fill="#a8181e" stroke="#8a1418" stroke-width="0.8"/>
<line x1="735.65" x2="735.65" y1="196.30" y2="203.70" stroke="#4a8a6c" stroke-width="1"/>
<rect x="734.45" y="201.40" width="2.4" height="0.80" fill="#62a585" stroke="#4a8a6c" stroke-width="0.8"/>
<line x1="739.25" x2="739.25" y1="236.00" y2="273.80" stroke="#8a1418" stroke-width="1"/>
<rect x="738.04" y="237.90" width="2.4" height="35.50" fill="#a8181e" stroke="#8a1418" stroke-width="0.8"/>
<line x1="742.84" x2="742.84" y1="253.60" y2="269.00" stroke="#4a8a6c" stroke-width="1"/>
<rect x="741.64" y="258.00" width="2.4" height="7.40" fill="#62a585" stroke="#4a8a6c" stroke-width="0.8"/>
<line x1="746.44" x2="746.44" y1="247.50" y2="257.60" stroke="#4a8a6c" stroke-width="1"/>
<rect x="745.24" y="247.80" width="2.4" height="9.50" fill="#62a585" stroke="#4a8a6c" stroke-width="0.8"/>
<line x1="750.03" x2="750.03" y1="239.00" y2="270.50" stroke="#8a1418" stroke-width="1"/>
<rect x="748.83" y="240.40" width="2.4" height="27.20" fill="#a8181e" stroke="#8a1418" stroke-width="0.8"/>
<line x1="753.63" x2="753.63" y1="264.50" y2="285.50" stroke="#4a8a6c" stroke-width="1"/>
<rect x="752.43" y="266.80" width="2.4" height="3.00" fill="#62a585" stroke="#4a8a6c" stroke-width="0.8"/>
<line x1="757.22" x2="757.22" y1="250.70" y2="264.60" stroke="#4a8a6c" stroke-width="1"/>
<rect x="756.02" y="259.00" width="2.4" height="1.20" fill="#62a585" stroke="#4a8a6c" stroke-width="0.8"/>
<line x1="760.82" x2="760.82" y1="256.30" y2="268.30" stroke="#4a8a6c" stroke-width="1"/>
<rect x="759.62" y="256.60" width="2.4" height="8.80" fill="#62a585" stroke="#4a8a6c" stroke-width="0.8"/>
<line x1="764.41" x2="764.41" y1="247.90" y2="255.80" stroke="#4a8a6c" stroke-width="1"/>
<rect x="763.21" y="248.20" width="2.4" height="7.30" fill="#62a585" stroke="#4a8a6c" stroke-width="0.8"/>
<line x1="768.01" x2="768.01" y1="239.40" y2="249.20" stroke="#4a8a6c" stroke-width="1"/>
<rect x="766.81" y="239.70" width="2.4" height="5.10" fill="#62a585" stroke="#4a8a6c" stroke-width="0.8"/>
<line x1="771.60" x2="771.60" y1="244.80" y2="262.70" stroke="#8a1418" stroke-width="1"/>
<rect x="770.40" y="247.80" width="2.4" height="14.60" fill="#a8181e" stroke="#8a1418" stroke-width="0.8"/>
<line x1="775.20" x2="775.20" y1="252.90" y2="263.20" stroke="#8a1418" stroke-width="1"/>
<rect x="774.00" y="259.50" width="2.4" height="1.00" fill="#a8181e" stroke="#8a1418" stroke-width="0.8"/>
<line x1="778.79" x2="778.79" y1="249.90" y2="260.20" stroke="#4a8a6c" stroke-width="1"/>
<rect x="777.59" y="255.80" width="2.4" height="2.70" fill="#62a585" stroke="#4a8a6c" stroke-width="0.8"/>
<line x1="782.39" x2="782.39" y1="248.00" y2="264.20" stroke="#8a1418" stroke-width="1"/>
<rect x="781.19" y="248.20" width="2.4" height="15.70" fill="#a8181e" stroke="#8a1418" stroke-width="0.8"/>
<line x1="785.98" x2="785.98" y1="254.40" y2="269.00" stroke="#4a8a6c" stroke-width="1"/>
<rect x="784.78" y="261.00" width="2.4" height="5.10" fill="#62a585" stroke="#4a8a6c" stroke-width="0.8"/>
<line x1="789.58" x2="789.58" y1="250.70" y2="260.50" stroke="#4a8a6c" stroke-width="1"/>
<rect x="788.38" y="252.20" width="2.4" height="8.00" fill="#62a585" stroke="#4a8a6c" stroke-width="0.8"/>
<line x1="793.17" x2="793.17" y1="249.20" y2="258.80" stroke="#8a1418" stroke-width="1"/>
<rect x="791.97" y="250.70" width="2.4" height="7.80" fill="#a8181e" stroke="#8a1418" stroke-width="0.8"/>
<line x1="796.77" x2="796.77" y1="250.40" y2="256.90" stroke="#4a8a6c" stroke-width="1"/>
<rect x="795.57" y="250.70" width="2.4" height="5.90" fill="#62a585" stroke="#4a8a6c" stroke-width="0.8"/>
<line x1="800.36" x2="800.36" y1="256.60" y2="269.00" stroke="#8a1418" stroke-width="1"/>
<rect x="799.16" y="258.00" width="2.4" height="7.40" fill="#a8181e" stroke="#8a1418" stroke-width="0.8"/>
<line x1="803.96" x2="803.96" y1="262.40" y2="274.90" stroke="#4a8a6c" stroke-width="1"/>
<rect x="802.75" y="269.80" width="2.4" height="0.80" fill="#62a585" stroke="#4a8a6c" stroke-width="0.8"/>
<line x1="807.55" x2="807.55" y1="267.30" y2="273.40" stroke="#4a8a6c" stroke-width="1"/>
<rect x="806.35" y="267.60" width="2.4" height="2.90" fill="#62a585" stroke="#4a8a6c" stroke-width="0.8"/>
<line x1="811.15" x2="811.15" y1="248.90" y2="270.20" stroke="#4a8a6c" stroke-width="1"/>
<rect x="809.95" y="254.40" width="2.4" height="13.20" fill="#62a585" stroke="#4a8a6c" stroke-width="0.8"/>
<line x1="814.74" x2="814.74" y1="252.30" y2="263.60" stroke="#8a1418" stroke-width="1"/>
<rect x="813.54" y="255.30" width="2.4" height="2.50" fill="#a8181e" stroke="#8a1418" stroke-width="0.8"/>
<line x1="818.34" x2="818.34" y1="262.20" y2="272.40" stroke="#4a8a6c" stroke-width="1"/>
<rect x="817.13" y="267.00" width="2.4" height="1.00" fill="#62a585" stroke="#4a8a6c" stroke-width="0.8"/>
<line x1="821.93" x2="821.93" y1="269.50" y2="282.00" stroke="#8a1418" stroke-width="1"/>
<rect x="820.73" y="270.00" width="2.4" height="1.40" fill="#a8181e" stroke="#8a1418" stroke-width="0.8"/>
<line x1="825.53" x2="825.53" y1="262.00" y2="270.20" stroke="#8a1418" stroke-width="1"/>
<rect x="824.33" y="262.20" width="2.4" height="4.40" fill="#a8181e" stroke="#8a1418" stroke-width="0.8"/>
<line x1="829.12" x2="829.12" y1="253.30" y2="266.90" stroke="#4a8a6c" stroke-width="1"/>
<rect x="827.92" y="257.30" width="2.4" height="9.30" fill="#62a585" stroke="#4a8a6c" stroke-width="0.8"/>
<line x1="832.72" x2="832.72" y1="247.50" y2="258.50" stroke="#8a1418" stroke-width="1"/>
<rect x="831.51" y="251.10" width="2.4" height="2.70" fill="#a8181e" stroke="#8a1418" stroke-width="0.8"/>
<line x1="836.31" x2="836.31" y1="250.60" y2="262.90" stroke="#8a1418" stroke-width="1"/>
<rect x="835.11" y="250.90" width="2.4" height="4.40" fill="#a8181e" stroke="#8a1418" stroke-width="0.8"/>
<line x1="839.91" x2="839.91" y1="254.10" y2="268.00" stroke="#8a1418" stroke-width="1"/>
<rect x="838.71" y="255.50" width="2.4" height="5.60" fill="#a8181e" stroke="#8a1418" stroke-width="0.8"/>
<line x1="843.50" x2="843.50" y1="262.20" y2="277.60" stroke="#8a1418" stroke-width="1"/>
<rect x="842.30" y="266.60" width="2.4" height="5.10" fill="#a8181e" stroke="#8a1418" stroke-width="0.8"/>
<line x1="847.10" x2="847.10" y1="262.20" y2="277.90" stroke="#4a8a6c" stroke-width="1"/>
<rect x="845.89" y="267.00" width="2.4" height="10.60" fill="#62a585" stroke="#4a8a6c" stroke-width="0.8"/>
<line x1="850.69" x2="850.69" y1="264.40" y2="271.30" stroke="#4a8a6c" stroke-width="1"/>
<rect x="849.49" y="268.80" width="2.4" height="2.20" fill="#62a585" stroke="#4a8a6c" stroke-width="0.8"/>
<line x1="854.29" x2="854.29" y1="266.10" y2="271.40" stroke="#8a1418" stroke-width="1"/>
<rect x="853.09" y="266.10" width="2.4" height="5.30" fill="#a8181e" stroke="#8a1418" stroke-width="0.8"/>
<line x1="857.88" x2="857.88" y1="266.50" y2="274.40" stroke="#4a8a6c" stroke-width="1"/>
<rect x="856.68" y="269.50" width="2.4" height="1.00" fill="#62a585" stroke="#4a8a6c" stroke-width="0.8"/>
<line x1="861.48" x2="861.48" y1="268.50" y2="282.00" stroke="#8a1418" stroke-width="1"/>
<rect x="860.27" y="272.00" width="2.4" height="9.70" fill="#a8181e" stroke="#8a1418" stroke-width="0.8"/>
<line x1="865.07" x2="865.07" y1="279.00" y2="288.00" stroke="#4a8a6c" stroke-width="1"/>
<rect x="863.87" y="285.20" width="2.4" height="2.60" fill="#62a585" stroke="#4a8a6c" stroke-width="0.8"/>
<line x1="868.67" x2="868.67" y1="282.00" y2="307.30" stroke="#8a1418" stroke-width="1"/>
<rect x="867.47" y="282.40" width="2.4" height="19.00" fill="#a8181e" stroke="#8a1418" stroke-width="0.8"/>
<line x1="872.26" x2="872.26" y1="281.80" y2="311.00" stroke="#4a8a6c" stroke-width="1"/>
<rect x="871.06" y="300.80" width="2.4" height="9.80" fill="#62a585" stroke="#4a8a6c" stroke-width="0.8"/>
<line x1="875.86" x2="875.86" y1="309.20" y2="322.90" stroke="#8a1418" stroke-width="1"/>
<rect x="874.65" y="311.80" width="2.4" height="6.60" fill="#a8181e" stroke="#8a1418" stroke-width="0.8"/>
<line x1="879.45" x2="879.45" y1="310.20" y2="324.90" stroke="#8a1418" stroke-width="1"/>
<rect x="878.25" y="315.10" width="2.4" height="5.30" fill="#a8181e" stroke="#8a1418" stroke-width="0.8"/>
<line x1="883.05" x2="883.05" y1="317.00" y2="329.70" stroke="#8a1418" stroke-width="1"/>
<rect x="881.85" y="324.90" width="2.4" height="2.90" fill="#a8181e" stroke="#8a1418" stroke-width="0.8"/>
<line x1="886.64" x2="886.64" y1="319.00" y2="333.60" stroke="#8a1418" stroke-width="1"/>
<rect x="885.44" y="323.90" width="2.4" height="9.40" fill="#a8181e" stroke="#8a1418" stroke-width="0.8"/>
<line x1="890.24" x2="890.24" y1="319.70" y2="332.40" stroke="#4a8a6c" stroke-width="1"/>
<rect x="889.03" y="320.00" width="2.4" height="12.10" fill="#62a585" stroke="#4a8a6c" stroke-width="0.8"/>
<line x1="893.83" x2="893.83" y1="314.10" y2="323.50" stroke="#8a1418" stroke-width="1"/>
<rect x="892.63" y="317.60" width="2.4" height="3.30" fill="#a8181e" stroke="#8a1418" stroke-width="0.8"/>
<line x1="897.43" x2="897.43" y1="308.60" y2="319.00" stroke="#8a1418" stroke-width="1"/>
<rect x="896.23" y="312.50" width="2.4" height="2.60" fill="#a8181e" stroke="#8a1418" stroke-width="0.8"/>
<line x1="901.02" x2="901.02" y1="314.10" y2="327.80" stroke="#4a8a6c" stroke-width="1"/>
<rect x="899.82" y="315.10" width="2.4" height="6.80" fill="#62a585" stroke="#4a8a6c" stroke-width="0.8"/>
<line x1="904.62" x2="904.62" y1="311.20" y2="328.20" stroke="#8a1418" stroke-width="1"/>
<rect x="903.42" y="317.60" width="2.4" height="7.30" fill="#a8181e" stroke="#8a1418" stroke-width="0.8"/>
<line x1="908.21" x2="908.21" y1="299.40" y2="316.00" stroke="#8a1418" stroke-width="1"/>
<rect x="907.01" y="305.30" width="2.4" height="7.80" fill="#a8181e" stroke="#8a1418" stroke-width="0.8"/>
<line x1="911.81" x2="911.81" y1="319.30" y2="348.10" stroke="#8a1418" stroke-width="1"/>
<rect x="910.61" y="319.60" width="2.4" height="22.80" fill="#a8181e" stroke="#8a1418" stroke-width="0.8"/>
<line x1="915.40" x2="915.40" y1="335.60" y2="344.40" stroke="#8a1418" stroke-width="1"/>
<rect x="914.20" y="341.10" width="2.4" height="1.30" fill="#a8181e" stroke="#8a1418" stroke-width="0.8"/>
<line x1="919.00" x2="919.00" y1="333.00" y2="345.40" stroke="#4a8a6c" stroke-width="1"/>
<rect x="917.80" y="333.30" width="2.4" height="9.10" fill="#62a585" stroke="#4a8a6c" stroke-width="0.8"/>
<line x1="922.59" x2="922.59" y1="323.90" y2="332.70" stroke="#8a1418" stroke-width="1"/>
<rect x="921.39" y="328.80" width="2.4" height="1.90" fill="#a8181e" stroke="#8a1418" stroke-width="0.8"/>
<line x1="926.19" x2="926.19" y1="321.20" y2="331.00" stroke="#4a8a6c" stroke-width="1"/>
<rect x="924.99" y="321.50" width="2.4" height="9.20" fill="#62a585" stroke="#4a8a6c" stroke-width="0.8"/>
<line x1="929.78" x2="929.78" y1="304.30" y2="318.70" stroke="#4a8a6c" stroke-width="1"/>
<rect x="928.58" y="307.30" width="2.4" height="11.10" fill="#62a585" stroke="#4a8a6c" stroke-width="0.8"/>
<line x1="933.38" x2="933.38" y1="286.70" y2="306.60" stroke="#4a8a6c" stroke-width="1"/>
<rect x="932.18" y="294.60" width="2.4" height="11.70" fill="#62a585" stroke="#4a8a6c" stroke-width="0.8"/>
<line x1="936.97" x2="936.97" y1="302.40" y2="311.50" stroke="#8a1418" stroke-width="1"/>
<rect x="935.77" y="303.90" width="2.4" height="7.30" fill="#a8181e" stroke="#8a1418" stroke-width="0.8"/>
<line x1="940.57" x2="940.57" y1="302.50" y2="310.20" stroke="#8a1418" stroke-width="1"/>
<rect x="939.37" y="305.30" width="2.4" height="2.90" fill="#a8181e" stroke="#8a1418" stroke-width="0.8"/>
<line x1="944.16" x2="944.16" y1="307.90" y2="318.40" stroke="#8a1418" stroke-width="1"/>
<rect x="942.96" y="308.20" width="2.4" height="3.90" fill="#a8181e" stroke="#8a1418" stroke-width="0.8"/>
<line x1="947.76" x2="947.76" y1="320.40" y2="338.80" stroke="#8a1418" stroke-width="1"/>
<rect x="946.56" y="327.40" width="2.4" height="11.10" fill="#a8181e" stroke="#8a1418" stroke-width="0.8"/>
<line x1="951.35" x2="951.35" y1="309.20" y2="320.40" stroke="#8a1418" stroke-width="1"/>
<rect x="950.15" y="316.40" width="2.4" height="3.20" fill="#a8181e" stroke="#8a1418" stroke-width="0.8"/>
<line x1="954.95" x2="954.95" y1="314.80" y2="321.40" stroke="#8a1418" stroke-width="1"/>
<rect x="953.75" y="314.80" width="2.4" height="4.40" fill="#a8181e" stroke="#8a1418" stroke-width="0.8"/>
<circle cx="149.4" cy="62.2" r="4.5" fill="none" stroke="#333" stroke-width="1"/>
<rect x="151.2" y="42.4" width="40.8" height="15" fill="#52a17a"/>
<text x="171.5" y="54.6" class="lb" text-anchor="middle" fill="#e4f6ec">273,55</text>
<circle cx="912" cy="347.9" r="4.5" fill="none" stroke="#333" stroke-width="1"/>
<rect x="869.3" y="352" width="41" height="16" fill="#c94448"/>
<text x="889.8" y="364.8" class="lb" text-anchor="middle" fill="#fae6e6">137,54</text>
<rect x="54.5" y="13" width="7.5" height="7.5" fill="#c8161b" stroke="#6a1010" stroke-width="1"/>
<text x="67" y="21" class="hd">Op:149, Hi:149, Lo:146.8, Cl:147.6</text>
<rect x="276.5" y="12.5" width="8" height="8" fill="#a4d8bd" stroke="#3f5f4c" stroke-width="1"/>
<text x="289.5" y="21" class="hd">Vol: 0M</text>
<text x="57.3" y="41.4" class="tt">1 Jahr, 1-Tages-Kerzen</text>
</svg>
</body></html>
